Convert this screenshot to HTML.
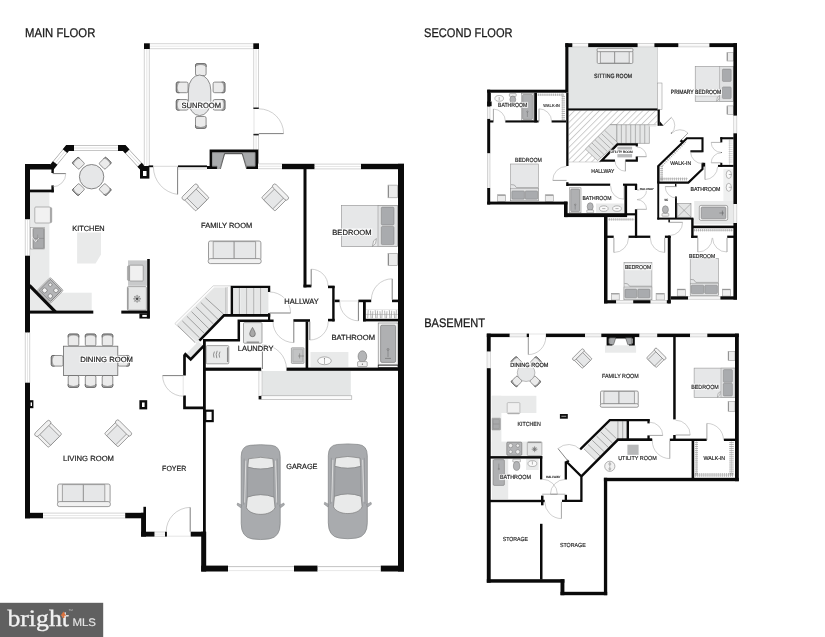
<!DOCTYPE html>
<html><head><meta charset="utf-8"><title>Floor plan</title>
<style>
html,body{margin:0;padding:0;background:#fff;}
body{width:825px;height:637px;overflow:hidden;font-family:"Liberation Sans",sans-serif;}
svg{display:block;font-family:"Liberation Sans",sans-serif;}
</style></head><body>
<svg width="825" height="637" viewBox="0 0 825 637" text-rendering="geometricPrecision">
<defs>
<g id="arm">
<rect x="-9.5" y="-7" width="19" height="16.6" rx="1.2" fill="#f1f1f1" stroke="#7c7c7c" stroke-width="0.75" vector-effect="non-scaling-stroke"/>
<rect x="-6.4" y="-6" width="12.8" height="15.6" fill="#e6e7e8" stroke="#7c7c7c" stroke-width="0.7" vector-effect="non-scaling-stroke"/>
<rect x="-10.4" y="-10" width="20.8" height="4.4" rx="2.1" fill="#f1f1f1" stroke="#7c7c7c" stroke-width="0.75" vector-effect="non-scaling-stroke"/>
</g>
<g id="chair">
<rect x="-5.3" y="-5.9" width="10.6" height="11.8" rx="1.6" fill="#ebebeb" stroke="#6c6c6c" stroke-width="0.75" vector-effect="non-scaling-stroke"/>
<path d="M-4.9,-4.1 Q0,-6.6 4.9,-4.1" fill="none" stroke="#a4a4a4" stroke-width="1.7"/>
<path d="M-5.3,-2.6 L-5.3,-4.3 Q-5.3,-5.9 -3.7,-5.9 L3.7,-5.9 Q5.3,-5.9 5.3,-4.3 L5.3,-2.6" fill="none" stroke="#5c5c5c" stroke-width="0.8" vector-effect="non-scaling-stroke"/>
</g>
<g id="sofa">
<rect x="0.3" y="0" width="52.4" height="19" rx="1.8" fill="#f1f1f1" stroke="#7c7c7c" stroke-width="0.75" vector-effect="non-scaling-stroke"/>
<rect x="5" y="0.6" width="21" height="17.6" fill="#e6e7e8" stroke="#7c7c7c" stroke-width="0.65" vector-effect="non-scaling-stroke"/>
<rect x="26" y="0.6" width="21.4" height="17.6" fill="#e6e7e8" stroke="#7c7c7c" stroke-width="0.65" vector-effect="non-scaling-stroke"/>
<rect x="0" y="17.6" width="53" height="5" rx="2.2" fill="#f1f1f1" stroke="#7c7c7c" stroke-width="0.75" vector-effect="non-scaling-stroke"/>
</g>
<g id="car">
<path d="M0,12 Q0,1.4 9,0.7 Q19.5,-0.5 30,0.7 Q39,1.4 39,12 L39,79 Q39,92.6 28,94.3 Q19.5,95.6 11,94.3 Q0,92.6 0,79 Z" fill="#a9abae" stroke="#808284" stroke-width="0.7"/>
<path d="M7.4,14.2 Q19.5,11.2 31.6,14.2 L32.4,22.6 Q19.5,26.4 6.6,22.6 Z" fill="#e9eaea" stroke="#6e6e6e" stroke-width="0.6"/>
<path d="M6.2,52.4 Q19.5,47.6 32.8,52.4 L33.8,63 C30,72 9,72 5.2,63 Z" fill="#e9eaea" stroke="#6e6e6e" stroke-width="0.6"/>
<path d="M6.6,22.6 Q19.5,26.4 32.4,22.6 L32.8,52.4 Q19.5,47.6 6.2,52.4 Z" fill="#a3a5a8" stroke="#808284" stroke-width="0.5"/>
<path d="M4.6,16 L3.4,58" stroke="#dcdcdc" stroke-width="1" fill="none"/>
<path d="M34.4,16 L35.6,58" stroke="#dcdcdc" stroke-width="1" fill="none"/>
<path d="M3,14 L2.4,60 M36,14 L36.6,60" stroke="#7a7c7e" stroke-width="0.4" fill="none"/>
<path d="M0.6,60.6 L-3.6,58.4 L-4.2,60.4 L-0.4,63.2 Z" fill="#a9abae" stroke="#808284" stroke-width="0.5"/>
<path d="M38.4,60.6 L42.6,58.4 L43.2,60.4 L39.4,63.2 Z" fill="#a9abae" stroke="#808284" stroke-width="0.5"/>
</g>
<g id="toilet">
<ellipse cx="0" cy="-3" rx="4.4" ry="5.6" fill="#b4b5b7" stroke="#777" stroke-width="0.6"/>
<rect x="-4.6" y="2.2" width="9.2" height="4.2" rx="0.8" fill="#efefef" stroke="#777" stroke-width="0.55"/>
</g>
<pattern id="hatch" width="4.4" height="4.4" patternUnits="userSpaceOnUse" patternTransform="rotate(45)"><line x1="0.5" y1="0" x2="0.5" y2="4.4" stroke="#9c9c9c" stroke-width="0.5"/></pattern>
<filter id="gray" x="0" y="0" width="825" height="637" filterUnits="userSpaceOnUse" color-interpolation-filters="sRGB"><feColorMatrix type="saturate" values="0"/></filter>
</defs>
<rect width="825" height="637" fill="#fff"/>
<g id="main-floor">
<rect x="30.00" y="192.00" width="19.40" height="119.00" fill="#e9eaea" />
<rect x="30.00" y="292.70" width="61.70" height="18.30" fill="#e9eaea" />
<path d="M77.1,232.4 L101,232.4 L101,254.6 L95.6,263.6 L77.1,263.6 Z" stroke="none" stroke-width="0" fill="#e9eaea" />
<rect x="49.00" y="207.40" width="2.80" height="15.40" rx="1.3" fill="#a6a6a6" stroke="#8a8a8a" stroke-width="0.4" />
<rect x="34.80" y="207.00" width="15.60" height="16.00" rx="1" fill="#f1f1f1" stroke="#9a9a9a" stroke-width="0.7" />
<rect x="30.40" y="227.60" width="14.00" height="21.40" rx="0" fill="#f6f6f6" stroke="#8a8a8a" stroke-width="0.5" />
<rect x="33.00" y="228.40" width="11.00" height="20.00" rx="0.6" fill="#a9aaac" stroke="#777" stroke-width="0.6" />
<line x1="33.00" y1="238.40" x2="44.00" y2="238.40" stroke="#7c7c7c" stroke-width="0.5" />
<path d="M31.4,236 L35.6,241.6 L38.8,238" stroke="#f0f0f0" stroke-width="0.9" fill="none" />
<path d="M37.6,234.6 L37.6,242" stroke="#8a8a8a" stroke-width="0.5" fill="none" />
<g transform="translate(50.3,290.4) rotate(45)"><rect x="-9.3" y="-9.3" width="18.6" height="18.6" rx="1.6" fill="#dcdcdc" stroke="#8a8a8a" stroke-width="0.6"/><rect x="-8" y="-8" width="16" height="16" rx="1" fill="#b4b5b7" stroke="#5c5c5c" stroke-width="0.6"/><circle cx="-4" cy="-4" r="1.7" fill="#f2f2f2" stroke="#555" stroke-width="0.5"/><circle cx="4" cy="-4" r="2.2" fill="#f2f2f2" stroke="#555" stroke-width="0.5"/><circle cx="-4" cy="4" r="2.4" fill="#f2f2f2" stroke="#555" stroke-width="0.5"/><circle cx="4" cy="4" r="2.2" fill="#f2f2f2" stroke="#555" stroke-width="0.5"/></g>
<rect x="128.00" y="260.40" width="19.20" height="25.40" fill="#c9cacb" />
<rect x="127.40" y="265.80" width="3.00" height="14.80" rx="1.3" fill="#a6a6a6" stroke="#8a8a8a" stroke-width="0.4" />
<rect x="129.60" y="265.20" width="13.60" height="15.80" rx="0.8" fill="#f0f0f0" stroke="#8a8a8a" stroke-width="0.65" />
<rect x="127.40" y="286.60" width="19.00" height="23.60" rx="1" fill="#e6e7e7" stroke="#808080" stroke-width="0.65" />
<line x1="128.00" y1="287.60" x2="128.00" y2="309.40" stroke="#8a8a8a" stroke-width="1.0" />
<g stroke="#444" stroke-width="0.5"><line x1="133.2" y1="298.8" x2="141" y2="298.8"/><line x1="137.1" y1="294.9" x2="137.1" y2="302.7"/><line x1="134.3" y1="296" x2="139.9" y2="301.6"/><line x1="139.9" y1="296" x2="134.3" y2="301.6"/></g>
<circle cx="137.1" cy="298.8" r="3" fill="none" stroke="#777" stroke-width="0.4"/><circle cx="137.1" cy="298.8" r="1.1" fill="#444"/>
<use href="#chair" transform="translate(78.40,163.20) rotate(-45) scale(0.8)"/>
<use href="#chair" transform="translate(105.20,163.20) rotate(45) scale(0.8)"/>
<use href="#chair" transform="translate(78.40,189.60) rotate(-135) scale(0.8)"/>
<use href="#chair" transform="translate(105.20,189.60) rotate(135) scale(0.8)"/>
<circle cx="91.6" cy="176.7" r="12.2" fill="#e6e7e8" stroke="#6a6a6a" stroke-width="0.8"/>
<use href="#chair" transform="translate(200.80,69.60) rotate(0) scale(1.0)"/>
<use href="#chair" transform="translate(200.80,122.40) rotate(180) scale(1.0)"/>
<use href="#chair" transform="translate(182.20,87.40) rotate(-90) scale(1.0)"/>
<use href="#chair" transform="translate(182.20,104.80) rotate(-90) scale(1.0)"/>
<use href="#chair" transform="translate(219.00,87.40) rotate(90) scale(1.0)"/>
<use href="#chair" transform="translate(219.00,104.80) rotate(90) scale(1.0)"/>
<rect x="188.4" y="75" width="22.4" height="40.6" rx="11.2" ry="15" fill="#e6e7e8" stroke="#6e6e6e" stroke-width="0.75"/>
<use href="#arm" transform="translate(195.60,197.60) rotate(-45) scale(1)"/>
<use href="#arm" transform="translate(275.00,197.60) rotate(45) scale(1)"/>
<use href="#sofa" transform="translate(208.20,241.00) rotate(0) scale(1)"/>
<use href="#chair" transform="translate(73.50,340.00) rotate(0) scale(1.0)"/>
<use href="#chair" transform="translate(73.50,381.40) rotate(180) scale(1.0)"/>
<use href="#chair" transform="translate(90.60,340.00) rotate(0) scale(1.0)"/>
<use href="#chair" transform="translate(90.60,381.40) rotate(180) scale(1.0)"/>
<use href="#chair" transform="translate(107.50,340.00) rotate(0) scale(1.0)"/>
<use href="#chair" transform="translate(107.50,381.40) rotate(180) scale(1.0)"/>
<use href="#chair" transform="translate(57.20,360.80) rotate(-90) scale(1.0)"/>
<use href="#chair" transform="translate(123.60,360.80) rotate(90) scale(1.0)"/>
<rect x="63.50" y="346.20" width="54.30" height="29.20" rx="0" fill="#e6e7e8" stroke="#6a6a6a" stroke-width="0.8" />
<use href="#arm" transform="translate(48.30,434.00) rotate(-45) scale(1)"/>
<use href="#arm" transform="translate(118.00,433.50) rotate(45) scale(1)"/>
<use href="#sofa" transform="translate(57.40,484.00) rotate(0) scale(1)"/>
<rect x="341.60" y="205.60" width="56.00" height="41.00" rx="0" fill="#e6e7e8" stroke="#8c8c8c" stroke-width="0.6" />
<rect x="378.00" y="205.60" width="19.60" height="41.00" rx="0" fill="#e0e1e2" stroke="#8c8c8c" stroke-width="0.5" />
<rect x="381.30" y="207.10" width="12.70" height="17.90" rx="1.2" fill="#a9abae" stroke="#7a7a7a" stroke-width="0.5" />
<rect x="381.30" y="226.40" width="12.70" height="18.20" rx="1.2" fill="#a9abae" stroke="#7a7a7a" stroke-width="0.5" />
<path d="M372.4,246.4 L373.6,240.8 L376.4,238.6 L375.6,243.4 Z" stroke="#666" stroke-width="0.45" fill="#f4f4f4" />
<rect x="388.00" y="185.10" width="9.60" height="12.70" rx="0" fill="#ececec" stroke="#8c8c8c" stroke-width="0.55" />
<line x1="388.50" y1="185.60" x2="388.50" y2="197.30" stroke="#8c8c8c" stroke-width="1.0" />
<rect x="388.00" y="253.60" width="9.60" height="12.00" rx="0" fill="#ececec" stroke="#8c8c8c" stroke-width="0.55" />
<line x1="388.50" y1="254.00" x2="388.50" y2="265.20" stroke="#8c8c8c" stroke-width="1.0" />
<rect x="310.50" y="352.00" width="37.90" height="14.90" fill="#e9eaea" />
<ellipse cx="324.5" cy="360.8" rx="6.8" ry="3.9" fill="#fafafa" stroke="#777" stroke-width="0.55"/>
<line x1="324.50" y1="359.00" x2="324.50" y2="364.00" stroke="#777" stroke-width="0.5" />
<circle cx="324.5" cy="358.6" r="0.6" fill="#777"/>
<ellipse cx="362.4" cy="356.4" rx="4.3" ry="5.6" fill="#b4b5b7" stroke="#6f6f6f" stroke-width="0.6"/>
<rect x="357.60" y="361.60" width="9.60" height="5.00" rx="0.8" fill="#f0f0f0" stroke="#6f6f6f" stroke-width="0.55" />
<circle cx="362.4" cy="364.2" r="0.6" fill="#555"/>
<rect x="378.20" y="323.00" width="19.80" height="41.80" rx="0" fill="#f2f2f2" stroke="#7a7a7a" stroke-width="0.6" />
<rect x="380.60" y="325.20" width="15.00" height="37.20" rx="1.4" fill="#afb0b2" stroke="#6f6f6f" stroke-width="0.6" />
<line x1="388.00" y1="349.60" x2="388.00" y2="357.00" stroke="#666" stroke-width="0.5" />
<circle cx="388" cy="349.4" r="1" fill="none" stroke="#666" stroke-width="0.45"/>
<line x1="385.00" y1="358.40" x2="391.00" y2="358.40" stroke="#666" stroke-width="0.6" />
<rect x="378.20" y="365.20" width="19.80" height="2.40" rx="0" fill="#fff" stroke="#111" stroke-width="0.7" />
<rect x="291.40" y="347.80" width="12.60" height="15.60" rx="0.6" fill="#d6d7d8" stroke="#7c7c7c" stroke-width="0.6" />
<rect x="292.80" y="349.20" width="9.80" height="12.80" rx="0.6" fill="#c2c3c4" stroke="#8a8a8a" stroke-width="0.4" />
<path d="M298,356 L304,356 M299.6,353.4 L299.6,358.4" stroke="#6c6c6c" stroke-width="0.5" fill="none" />
<line x1="368.20" y1="310.20" x2="367.70" y2="318.20" stroke="#555" stroke-width="0.45" />
<line x1="370.55" y1="310.70" x2="371.05" y2="318.20" stroke="#555" stroke-width="0.45" />
<line x1="372.90" y1="311.20" x2="372.40" y2="318.20" stroke="#555" stroke-width="0.45" />
<line x1="375.25" y1="310.20" x2="375.75" y2="318.20" stroke="#555" stroke-width="0.45" />
<line x1="377.60" y1="310.70" x2="377.10" y2="318.20" stroke="#555" stroke-width="0.45" />
<line x1="379.95" y1="311.20" x2="380.45" y2="318.20" stroke="#555" stroke-width="0.45" />
<line x1="382.30" y1="310.20" x2="381.80" y2="318.20" stroke="#555" stroke-width="0.45" />
<line x1="384.65" y1="310.70" x2="385.15" y2="318.20" stroke="#555" stroke-width="0.45" />
<line x1="387.00" y1="311.20" x2="386.50" y2="318.20" stroke="#555" stroke-width="0.45" />
<line x1="389.35" y1="310.20" x2="389.85" y2="318.20" stroke="#555" stroke-width="0.45" />
<line x1="391.70" y1="310.70" x2="391.20" y2="318.20" stroke="#555" stroke-width="0.45" />
<line x1="394.05" y1="311.20" x2="394.55" y2="318.20" stroke="#555" stroke-width="0.45" />
<line x1="396.40" y1="310.20" x2="395.90" y2="318.20" stroke="#555" stroke-width="0.45" />
<line x1="366.00" y1="314.40" x2="398.00" y2="314.40" stroke="#9a9a9a" stroke-width="0.5" />
<line x1="366.00" y1="309.60" x2="398.00" y2="309.60" stroke="#c4c4c4" stroke-width="0.4" />
<rect x="243.50" y="322.60" width="18.50" height="20.60" rx="1" fill="#e8e9e9" stroke="#7a7a7a" stroke-width="0.65" />
<line x1="246.60" y1="342.20" x2="259.00" y2="342.20" stroke="#8a8a8a" stroke-width="1.3" />
<path d="M252.5,327.4 C252.5,327.4 255.3,332 255.3,333.9 A2.8,2.8 0 0 1 249.7,333.9 C249.7,332 252.5,327.4 252.5,327.4 Z" stroke="#555" stroke-width="0.6" fill="#a8a8a8" />
<rect x="206.20" y="345.60" width="22.60" height="18.20" rx="1" fill="#e8e9e9" stroke="#7a7a7a" stroke-width="0.65" />
<line x1="227.60" y1="347.40" x2="227.60" y2="362.00" stroke="#8a8a8a" stroke-width="1.3" />
<path d="M214.4,351.6 q-1.6,3 -0.4,6 M217.2,350.8 q-1.8,3.6 -0.4,7.4 M220,351.6 q-1.6,3 -0.4,6" stroke="#444" stroke-width="0.55" fill="none" />
<rect x="262.00" y="371.00" width="88.80" height="24.80" fill="#e4e6e6" />
<rect x="258.90" y="371.00" width="3.10" height="25.00" rx="0" fill="#fbfbfb" stroke="#b4b4b4" stroke-width="0.5" />
<rect x="261.00" y="395.80" width="90.80" height="3.50" rx="0" fill="#fbfbfb" stroke="#9c9c9c" stroke-width="0.55" />
<rect x="258.60" y="396.00" width="2.70" height="3.40" fill="#111" />
<use href="#car" transform="translate(241.20,444.60) rotate(0) scale(1)"/>
<use href="#car" transform="translate(328.30,443.80) rotate(0) scale(1)"/>
<rect x="232.80" y="287.60" width="35.60" height="26.60" fill="#e5e6e6" />
<line x1="239.40" y1="287.60" x2="239.40" y2="314.20" stroke="#6e6e6e" stroke-width="0.55" />
<line x1="240.30" y1="287.60" x2="240.30" y2="314.20" stroke="#f4f4f4" stroke-width="0.6" />
<line x1="246.80" y1="287.60" x2="246.80" y2="314.20" stroke="#6e6e6e" stroke-width="0.55" />
<line x1="247.70" y1="287.60" x2="247.70" y2="314.20" stroke="#f4f4f4" stroke-width="0.6" />
<line x1="253.90" y1="287.60" x2="253.90" y2="314.20" stroke="#6e6e6e" stroke-width="0.55" />
<line x1="254.80" y1="287.60" x2="254.80" y2="314.20" stroke="#f4f4f4" stroke-width="0.6" />
<line x1="260.80" y1="287.60" x2="260.80" y2="314.20" stroke="#6e6e6e" stroke-width="0.55" />
<line x1="261.70" y1="287.60" x2="261.70" y2="314.20" stroke="#f4f4f4" stroke-width="0.6" />
<polygon points="213.20,285.80 230.80,285.80 230.80,314.60 223.60,315.20 197.20,343.60 174.80,323.60" fill="#fbfbfb" stroke="#b4b4b4" stroke-width="0.5"/>
<polygon points="214.20,287.40 226.00,287.40 226.00,314.00 223.40,315.00 197.20,342.00 176.60,324.60" fill="#e5e6e6" stroke="none" stroke-width="0.5"/>
<line x1="227.40" y1="287.00" x2="227.40" y2="314.00" stroke="#b0b0b0" stroke-width="0.5" />
<line x1="226.00" y1="287.40" x2="226.00" y2="314.00" stroke="#6e6e6e" stroke-width="0.5" />
<line x1="205.40" y1="297.80" x2="223.40" y2="314.00" stroke="#6e6e6e" stroke-width="0.6" />
<line x1="200.78" y1="302.42" x2="218.08" y2="319.42" stroke="#6e6e6e" stroke-width="0.6" />
<line x1="196.16" y1="307.04" x2="213.46" y2="324.04" stroke="#6e6e6e" stroke-width="0.6" />
<line x1="191.54" y1="311.66" x2="208.84" y2="328.66" stroke="#6e6e6e" stroke-width="0.6" />
<line x1="186.92" y1="316.28" x2="204.22" y2="333.28" stroke="#6e6e6e" stroke-width="0.6" />
<line x1="182.30" y1="320.90" x2="199.60" y2="337.90" stroke="#6e6e6e" stroke-width="0.6" />
<line x1="177.68" y1="325.52" x2="194.98" y2="342.52" stroke="#6e6e6e" stroke-width="0.6" />
<polygon points="198.40,341.40 203.20,345.80 190.70,358.40 186.20,353.80" fill="#e5e6e6" stroke="none" stroke-width="0.5"/>
<rect x="25.00" y="164.00" width="5.00" height="55.50" fill="#0a0a0a" />
<rect x="25.00" y="219.50" width="5.00" height="36.20" fill="#fff" />
<line x1="25.30" y1="219.50" x2="25.30" y2="255.70" stroke="#b0b0b0" stroke-width="0.55" />
<line x1="29.70" y1="219.50" x2="29.70" y2="255.70" stroke="#b0b0b0" stroke-width="0.55" />
<line x1="27.50" y1="219.50" x2="27.50" y2="255.70" stroke="#cfcfcf" stroke-width="0.5" />
<rect x="25.00" y="255.70" width="5.00" height="77.00" fill="#0a0a0a" />
<rect x="25.00" y="332.70" width="5.00" height="50.00" fill="#fff" />
<line x1="25.30" y1="332.70" x2="25.30" y2="382.70" stroke="#b0b0b0" stroke-width="0.55" />
<line x1="29.70" y1="332.70" x2="29.70" y2="382.70" stroke="#b0b0b0" stroke-width="0.55" />
<line x1="27.50" y1="332.70" x2="27.50" y2="382.70" stroke="#cfcfcf" stroke-width="0.5" />
<rect x="25.00" y="382.70" width="5.00" height="135.60" fill="#0a0a0a" />
<rect x="25.00" y="164.00" width="28.80" height="5.50" fill="#0a0a0a" />
<rect x="51.40" y="164.00" width="2.40" height="9.00" fill="#0a0a0a" />
<rect x="51.40" y="185.40" width="2.40" height="6.90" fill="#0a0a0a" />
<rect x="30.00" y="189.60" width="23.80" height="2.70" fill="#0a0a0a" />
<line x1="52.60" y1="173.60" x2="65.80" y2="173.60" stroke="#686868" stroke-width="0.85" />
<path d="M65.80,173.60 A13.20,13.20 0 0 1 52.60,186.80" stroke="#a0a0a0" stroke-width="0.5" fill="none" />
<polyline points="52.40,166.40 67.60,148.00 124.20,148.00 142.60,168.00" stroke="#9a9a9a" stroke-width="5.6" fill="none" stroke-linejoin="miter" stroke-linecap="butt"/>
<polyline points="52.40,166.40 67.60,148.00 124.20,148.00 142.60,168.00" stroke="#fff" stroke-width="4.6" fill="none" stroke-linejoin="miter" stroke-linecap="butt"/>
<polyline points="52.40,166.40 67.60,148.00 124.20,148.00 142.60,168.00" stroke="#c2c2c2" stroke-width="0.5" fill="none" stroke-linejoin="miter" stroke-linecap="butt"/>
<polyline points="51.00,168.20 55.20,163.00" stroke="#0a0a0a" stroke-width="5.8" fill="none" stroke-linejoin="miter" stroke-linecap="butt"/>
<polyline points="65.00,151.20 67.60,148.00 74.00,148.00" stroke="#0a0a0a" stroke-width="5.8" fill="none" stroke-linejoin="miter" stroke-linecap="butt"/>
<polyline points="118.00,148.00 124.20,148.00 127.40,151.40" stroke="#0a0a0a" stroke-width="5.8" fill="none" stroke-linejoin="miter" stroke-linecap="butt"/>
<polyline points="139.60,164.80 144.00,169.60" stroke="#0a0a0a" stroke-width="5.8" fill="none" stroke-linejoin="miter" stroke-linecap="butt"/>
<rect x="140.00" y="166.00" width="9.40" height="12.60" fill="#0a0a0a" />
<rect x="143.00" y="171.00" width="3.50" height="5.00" fill="#fff" />
<rect x="144.00" y="49.00" width="5.60" height="117.00" fill="#fff" />
<line x1="144.30" y1="49.00" x2="144.30" y2="166.00" stroke="#b0b0b0" stroke-width="0.55" />
<line x1="149.30" y1="49.00" x2="149.30" y2="166.00" stroke="#b0b0b0" stroke-width="0.55" />
<line x1="146.80" y1="49.00" x2="146.80" y2="166.00" stroke="#cfcfcf" stroke-width="0.5" />
<rect x="149.60" y="43.40" width="103.80" height="5.60" fill="#fff" />
<line x1="149.60" y1="43.70" x2="253.40" y2="43.70" stroke="#b0b0b0" stroke-width="0.55" />
<line x1="149.60" y1="48.70" x2="253.40" y2="48.70" stroke="#b0b0b0" stroke-width="0.55" />
<line x1="149.60" y1="46.20" x2="253.40" y2="46.20" stroke="#cfcfcf" stroke-width="0.5" />
<rect x="253.40" y="49.00" width="5.40" height="59.60" fill="#fff" />
<line x1="253.70" y1="49.00" x2="253.70" y2="108.60" stroke="#b0b0b0" stroke-width="0.55" />
<line x1="258.50" y1="49.00" x2="258.50" y2="108.60" stroke="#b0b0b0" stroke-width="0.55" />
<line x1="256.10" y1="49.00" x2="256.10" y2="108.60" stroke="#cfcfcf" stroke-width="0.5" />
<rect x="253.40" y="135.40" width="5.40" height="14.60" fill="#fff" />
<line x1="253.70" y1="135.40" x2="253.70" y2="150.00" stroke="#b0b0b0" stroke-width="0.55" />
<line x1="258.50" y1="135.40" x2="258.50" y2="150.00" stroke="#b0b0b0" stroke-width="0.55" />
<line x1="256.10" y1="135.40" x2="256.10" y2="150.00" stroke="#cfcfcf" stroke-width="0.5" />
<rect x="144.00" y="43.30" width="5.80" height="5.70" fill="#0a0a0a" />
<rect x="253.30" y="43.30" width="5.70" height="5.70" fill="#0a0a0a" />
<rect x="253.40" y="107.50" width="5.40" height="1.50" fill="#222" />
<rect x="253.40" y="133.80" width="5.40" height="1.60" fill="#222" />
<line x1="258.80" y1="133.60" x2="283.60" y2="133.60" stroke="#686868" stroke-width="0.85" />
<path d="M283.60,133.60 A24.80,24.80 0 0 0 258.80,108.80" stroke="#a0a0a0" stroke-width="0.5" fill="none" />
<line x1="254.00" y1="109.00" x2="254.00" y2="133.60" stroke="#c4c4c4" stroke-width="0.5" />
<rect x="148.60" y="165.40" width="4.60" height="1.80" fill="#0a0a0a" />
<rect x="178.00" y="165.40" width="29.00" height="1.80" fill="#0a0a0a" />
<line x1="178.00" y1="169.00" x2="207.00" y2="169.00" stroke="#b0b0b0" stroke-width="0.5" />
<line x1="177.60" y1="166.60" x2="177.60" y2="194.40" stroke="#686868" stroke-width="0.85" />
<path d="M177.60,194.40 A27.80,27.80 0 0 1 153.40,167.00" stroke="#a0a0a0" stroke-width="0.5" fill="none" />
<line x1="153.40" y1="166.30" x2="177.60" y2="166.30" stroke="#b0b0b0" stroke-width="0.5" />
<polygon points="209.60,149.50 258.40,149.50 258.40,169.00 246.40,169.00 246.40,166.20 255.20,166.20 255.20,152.60 212.20,152.60 212.20,166.20 217.00,166.20 217.00,169.00 207.00,169.00 207.00,166.00 209.60,166.00" fill="#0a0a0a" stroke="none" stroke-width="0.5"/>
<polygon points="212.20,152.60 255.20,152.60 255.20,166.20 246.40,166.20 242.40,153.80 224.60,153.80 219.80,168.60 217.00,168.60 217.00,166.20 212.20,166.20" fill="#a9abad" stroke="#4a4a4a" stroke-width="0.4"/>
<polyline points="220.40,169.00 224.60,153.60 242.20,153.60 246.60,169.00" stroke="#3a3a3a" stroke-width="0.7" fill="none" stroke-linejoin="miter" stroke-linecap="butt"/>
<rect x="258.00" y="163.60" width="24.00" height="5.40" fill="#fff" />
<line x1="258.00" y1="163.90" x2="282.00" y2="163.90" stroke="#b0b0b0" stroke-width="0.55" />
<line x1="258.00" y1="168.70" x2="282.00" y2="168.70" stroke="#b0b0b0" stroke-width="0.55" />
<line x1="258.00" y1="166.30" x2="282.00" y2="166.30" stroke="#cfcfcf" stroke-width="0.5" />
<rect x="282.00" y="163.80" width="32.70" height="5.40" fill="#0a0a0a" />
<rect x="314.70" y="163.80" width="46.30" height="5.40" fill="#fff" />
<line x1="314.70" y1="164.10" x2="361.00" y2="164.10" stroke="#b0b0b0" stroke-width="0.55" />
<line x1="314.70" y1="168.90" x2="361.00" y2="168.90" stroke="#b0b0b0" stroke-width="0.55" />
<line x1="314.70" y1="166.50" x2="361.00" y2="166.50" stroke="#cfcfcf" stroke-width="0.5" />
<rect x="361.00" y="163.80" width="43.00" height="5.40" fill="#0a0a0a" />
<rect x="398.00" y="163.80" width="6.00" height="407.70" fill="#0a0a0a" />
<rect x="201.20" y="565.60" width="26.80" height="5.90" fill="#0a0a0a" />
<rect x="294.00" y="565.60" width="23.50" height="5.90" fill="#0a0a0a" />
<rect x="380.80" y="565.60" width="23.20" height="5.90" fill="#0a0a0a" />
<line x1="228.00" y1="566.60" x2="294.00" y2="566.60" stroke="#9a9a9a" stroke-width="0.6" />
<line x1="228.00" y1="570.60" x2="294.00" y2="570.60" stroke="#d0d0d0" stroke-width="0.5" />
<line x1="317.50" y1="566.60" x2="380.80" y2="566.60" stroke="#9a9a9a" stroke-width="0.6" />
<line x1="317.50" y1="570.60" x2="380.80" y2="570.60" stroke="#d0d0d0" stroke-width="0.5" />
<rect x="203.00" y="339.40" width="2.80" height="192.60" fill="#0a0a0a" />
<rect x="201.20" y="531.70" width="5.00" height="39.80" fill="#0a0a0a" />
<rect x="190.70" y="531.70" width="15.30" height="4.90" fill="#0a0a0a" />
<rect x="25.00" y="512.80" width="18.00" height="5.50" fill="#0a0a0a" />
<rect x="43.00" y="512.80" width="82.20" height="5.50" fill="#fff" />
<line x1="43.00" y1="513.10" x2="125.20" y2="513.10" stroke="#b0b0b0" stroke-width="0.55" />
<line x1="43.00" y1="518.00" x2="125.20" y2="518.00" stroke="#b0b0b0" stroke-width="0.55" />
<line x1="43.00" y1="515.55" x2="125.20" y2="515.55" stroke="#cfcfcf" stroke-width="0.5" />
<rect x="125.20" y="512.80" width="20.80" height="5.50" fill="#0a0a0a" />
<rect x="143.40" y="506.80" width="2.60" height="6.20" fill="#0a0a0a" />
<rect x="141.10" y="512.80" width="4.90" height="23.80" fill="#0a0a0a" />
<rect x="141.10" y="531.70" width="13.60" height="4.90" fill="#0a0a0a" />
<rect x="154.70" y="531.70" width="10.50" height="4.90" fill="#fff" />
<line x1="154.70" y1="532.00" x2="165.20" y2="532.00" stroke="#b0b0b0" stroke-width="0.55" />
<line x1="154.70" y1="536.30" x2="165.20" y2="536.30" stroke="#b0b0b0" stroke-width="0.55" />
<line x1="154.70" y1="534.15" x2="165.20" y2="534.15" stroke="#cfcfcf" stroke-width="0.5" />
<rect x="165.00" y="531.70" width="1.90" height="4.90" fill="#0a0a0a" />
<line x1="190.20" y1="531.70" x2="190.20" y2="507.40" stroke="#686868" stroke-width="0.85" />
<path d="M190.20,507.40 A24.30,24.30 0 0 0 166.20,531.70" stroke="#a0a0a0" stroke-width="0.5" fill="none" />
<line x1="166.90" y1="536.20" x2="190.70" y2="536.20" stroke="#c8c8c8" stroke-width="0.5" />
<rect x="30.00" y="310.60" width="63.30" height="3.00" fill="#0a0a0a" />
<polyline points="29.40,285.40 55.40,311.80" stroke="#0a0a0a" stroke-width="3.2" fill="none" stroke-linejoin="miter" stroke-linecap="butt"/>
<rect x="147.20" y="259.00" width="2.60" height="59.40" fill="#0a0a0a" />
<rect x="121.30" y="310.60" width="28.50" height="3.00" fill="#0a0a0a" />
<rect x="139.40" y="313.40" width="10.40" height="5.10" fill="#0a0a0a" />
<rect x="142.30" y="314.90" width="4.50" height="2.00" fill="#fff" />
<rect x="28.50" y="400.20" width="4.90" height="8.00" fill="#0a0a0a" />
<rect x="30.60" y="402.40" width="1.40" height="3.60" fill="#fff" />
<rect x="139.40" y="400.20" width="7.80" height="9.20" fill="#0a0a0a" />
<rect x="142.00" y="402.50" width="2.60" height="4.50" fill="#fff" />
<rect x="303.50" y="169.00" width="3.00" height="118.40" fill="#0a0a0a" />
<rect x="303.50" y="284.60" width="7.90" height="2.80" fill="#0a0a0a" />
<line x1="311.20" y1="286.00" x2="311.20" y2="269.20" stroke="#686868" stroke-width="0.85" />
<path d="M311.20,269.20 A16.80,16.80 0 0 1 328.00,286.00" stroke="#a0a0a0" stroke-width="0.5" fill="none" />
<rect x="328.00" y="285.60" width="6.60" height="2.60" fill="#0a0a0a" />
<rect x="332.20" y="286.00" width="2.40" height="35.40" fill="#0a0a0a" />
<rect x="328.00" y="318.80" width="6.60" height="2.60" fill="#0a0a0a" />
<rect x="334.60" y="299.60" width="5.00" height="2.60" fill="#0a0a0a" />
<line x1="339.60" y1="301.00" x2="358.50" y2="301.00" stroke="#c0c0c0" stroke-width="0.5" />
<line x1="358.40" y1="302.00" x2="358.40" y2="320.80" stroke="#686868" stroke-width="0.85" />
<path d="M358.40,320.80 A18.80,18.80 0 0 1 339.80,302.00" stroke="#a0a0a0" stroke-width="0.5" fill="none" />
<rect x="358.40" y="299.60" width="12.80" height="2.60" fill="#0a0a0a" />
<rect x="363.00" y="300.00" width="2.80" height="21.40" fill="#0a0a0a" />
<rect x="363.00" y="318.80" width="35.40" height="2.60" fill="#0a0a0a" />
<rect x="392.00" y="299.60" width="6.40" height="2.60" fill="#0a0a0a" />
<line x1="392.20" y1="299.60" x2="392.20" y2="278.80" stroke="#686868" stroke-width="0.85" />
<path d="M392.20,278.80 A20.80,20.80 0 0 0 371.40,299.60" stroke="#a0a0a0" stroke-width="0.5" fill="none" />
<rect x="305.60" y="321.40" width="2.60" height="46.60" fill="#0a0a0a" />
<rect x="293.40" y="319.20" width="16.60" height="2.60" fill="#0a0a0a" />
<line x1="309.80" y1="321.60" x2="309.80" y2="340.00" stroke="#686868" stroke-width="0.85" />
<path d="M309.80,340.00 A18.40,18.40 0 0 0 328.20,321.60" stroke="#a0a0a0" stroke-width="0.5" fill="none" />
<line x1="293.80" y1="321.80" x2="293.80" y2="342.60" stroke="#686868" stroke-width="0.85" />
<path d="M293.80,342.60 A20.80,20.80 0 0 1 273.00,321.80" stroke="#a0a0a0" stroke-width="0.5" fill="none" />
<rect x="204.40" y="367.60" width="56.80" height="3.20" fill="#0a0a0a" />
<rect x="286.50" y="367.60" width="111.90" height="3.20" fill="#0a0a0a" />
<line x1="262.40" y1="369.00" x2="262.40" y2="344.80" stroke="#686868" stroke-width="0.85" />
<path d="M262.40,344.80 A24.20,24.20 0 0 1 286.50,369.00" stroke="#a0a0a0" stroke-width="0.5" fill="none" />
<polyline points="231.90,316.00 231.90,286.80 269.10,286.80 269.10,292.00" stroke="#0a0a0a" stroke-width="2.3" fill="none" stroke-linejoin="miter" stroke-linecap="butt"/>
<rect x="268.00" y="313.20" width="2.20" height="7.80" fill="#0a0a0a" />
<line x1="269.60" y1="313.00" x2="290.60" y2="313.00" stroke="#686868" stroke-width="0.85" />
<path d="M290.60,313.00 A21.00,21.00 0 0 0 269.60,292.00" stroke="#a0a0a0" stroke-width="0.5" fill="none" />
<polyline points="270.20,315.40 224.00,315.40 199.40,340.60" stroke="#0a0a0a" stroke-width="2.6" fill="none" stroke-linejoin="miter" stroke-linecap="butt"/>
<polyline points="273.60,320.70 238.80,320.70 238.80,340.30 203.00,340.30" stroke="#0a0a0a" stroke-width="2.5" fill="none" stroke-linejoin="miter" stroke-linecap="butt"/>
<polyline points="204.20,345.40 190.70,359.40 185.40,354.20 184.50,355.40 184.50,375.40" stroke="#0a0a0a" stroke-width="2.7" fill="none" stroke-linejoin="miter" stroke-linecap="butt"/>
<polyline points="184.50,395.40 184.50,407.80 204.40,407.80" stroke="#0a0a0a" stroke-width="2.7" fill="none" stroke-linejoin="miter" stroke-linecap="butt"/>
<line x1="183.40" y1="375.60" x2="162.60" y2="375.60" stroke="#686868" stroke-width="0.85" />
<path d="M162.60,375.60 A20.80,20.80 0 0 0 183.40,396.20" stroke="#a0a0a0" stroke-width="0.5" fill="none" />
<line x1="183.20" y1="375.60" x2="183.20" y2="396.00" stroke="#c8c8c8" stroke-width="0.5" />
<rect x="204.00" y="409.60" width="9.80" height="12.60" fill="#0a0a0a" />
<rect x="206.40" y="411.80" width="5.20" height="8.20" fill="#fff" />
</g>
<g id="second-floor">
<rect x="568.00" y="47.00" width="89.40" height="61.60" fill="#e3e5e5" />
<polygon points="568.60,110.40 657.60,110.40 657.60,124.70 610.00,124.70 585.40,149.10 597.60,160.80 597.60,162.00 568.60,162.00" fill="url(#hatch)" stroke="none" stroke-width="0.5"/>
<line x1="568.60" y1="162.00" x2="601.00" y2="162.00" stroke="#b0b0b0" stroke-width="0.5" />
<polygon points="610.00,124.70 656.40,124.70 656.40,126.40 649.40,126.40 649.40,143.40 617.40,143.40 601.00,159.80 597.40,160.60 585.40,149.10" fill="#fff" stroke="none" stroke-width="0.5"/>
<rect x="616.70" y="124.70" width="32.70" height="18.70" fill="#e5e6e6" />
<line x1="616.70" y1="124.70" x2="616.70" y2="143.40" stroke="#7a7a7a" stroke-width="0.5" />
<line x1="621.37" y1="124.70" x2="621.37" y2="143.40" stroke="#7a7a7a" stroke-width="0.5" />
<line x1="626.04" y1="124.70" x2="626.04" y2="143.40" stroke="#7a7a7a" stroke-width="0.5" />
<line x1="630.71" y1="124.70" x2="630.71" y2="143.40" stroke="#7a7a7a" stroke-width="0.5" />
<line x1="635.38" y1="124.70" x2="635.38" y2="143.40" stroke="#7a7a7a" stroke-width="0.5" />
<line x1="640.05" y1="124.70" x2="640.05" y2="143.40" stroke="#7a7a7a" stroke-width="0.5" />
<line x1="644.72" y1="124.70" x2="644.72" y2="143.40" stroke="#7a7a7a" stroke-width="0.5" />
<line x1="649.39" y1="124.70" x2="649.39" y2="143.40" stroke="#7a7a7a" stroke-width="0.5" />
<line x1="610.00" y1="124.70" x2="656.40" y2="124.70" stroke="#7a7a7a" stroke-width="0.5" />
<line x1="616.70" y1="143.40" x2="649.40" y2="143.40" stroke="#7a7a7a" stroke-width="0.5" />
<rect x="649.40" y="124.70" width="7.00" height="1.90" fill="#e9e9e9" />
<polygon points="610.00,124.70 616.70,124.70 616.70,141.60 617.60,143.00 597.60,160.60 585.40,149.10" fill="#e5e6e6" stroke="#7a7a7a" stroke-width="0.5"/>
<line x1="601.48" y1="133.52" x2="613.58" y2="145.12" stroke="#7a7a7a" stroke-width="0.5" />
<line x1="598.27" y1="136.63" x2="610.37" y2="148.23" stroke="#7a7a7a" stroke-width="0.5" />
<line x1="595.05" y1="139.75" x2="607.15" y2="151.35" stroke="#7a7a7a" stroke-width="0.5" />
<line x1="591.83" y1="142.87" x2="603.93" y2="154.47" stroke="#7a7a7a" stroke-width="0.5" />
<line x1="588.62" y1="145.98" x2="600.72" y2="157.58" stroke="#7a7a7a" stroke-width="0.5" />
<line x1="604.70" y1="130.40" x2="616.70" y2="141.70" stroke="#7a7a7a" stroke-width="0.5" />
<rect x="617.40" y="146.70" width="14.70" height="3.00" fill="#b9babb" />
<rect x="617.40" y="154.10" width="14.70" height="3.30" fill="#b9babb" />
<g transform="translate(597,48.4) scale(0.68,0.67)"><use href="#sofa" transform="translate(0,22.5) scale(1,-1)"/></g>
<rect x="695.20" y="66.30" width="38.20" height="35.20" rx="0" fill="#e6e7e8" stroke="#8c8c8c" stroke-width="0.55" />
<rect x="719.80" y="66.30" width="13.60" height="35.20" rx="0" fill="#e0e1e2" stroke="#8c8c8c" stroke-width="0.45" />
<rect x="722.40" y="69.10" width="8.80" height="12.30" rx="1" fill="#a9abae" stroke="#7a7a7a" stroke-width="0.45" />
<rect x="722.40" y="86.90" width="8.80" height="11.70" rx="1" fill="#a9abae" stroke="#7a7a7a" stroke-width="0.45" />
<line x1="695.20" y1="96.60" x2="719.80" y2="96.60" stroke="#bdbdbd" stroke-width="0.4" />
<path d="M716.6,101.2 L717.4,97.2 L719.6,95.6 L719,99 Z" stroke="#666" stroke-width="0.4" fill="#f4f4f4" />
<rect x="727.00" y="52.60" width="6.40" height="8.40" rx="0" fill="#ececec" stroke="#8c8c8c" stroke-width="0.5" />
<line x1="727.40" y1="53.00" x2="727.40" y2="60.60" stroke="#8c8c8c" stroke-width="0.9" />
<rect x="727.00" y="105.90" width="6.40" height="8.50" rx="0" fill="#ececec" stroke="#8c8c8c" stroke-width="0.5" />
<line x1="727.40" y1="106.30" x2="727.40" y2="114.00" stroke="#8c8c8c" stroke-width="0.9" />
<rect x="510.70" y="164.00" width="27.70" height="36.80" rx="0" fill="#e6e7e8" stroke="#8c8c8c" stroke-width="0.55" />
<rect x="510.70" y="188.60" width="27.70" height="12.20" rx="0" fill="#e0e1e2" stroke="#8c8c8c" stroke-width="0.45" />
<rect x="511.80" y="190.90" width="12.60" height="8.30" rx="1" fill="#a9abae" stroke="#7a7a7a" stroke-width="0.45" />
<rect x="525.20" y="190.90" width="12.40" height="8.30" rx="1" fill="#a9abae" stroke="#7a7a7a" stroke-width="0.45" />
<path d="M511,184.6 L514.4,185 L516.4,187.6 L538,187.6" stroke="#666" stroke-width="0.45" fill="none" />
<rect x="497.50" y="194.80" width="8.20" height="6.60" rx="0" fill="#ececec" stroke="#8c8c8c" stroke-width="0.5" />
<line x1="497.90" y1="195.30" x2="505.30" y2="195.30" stroke="#8c8c8c" stroke-width="0.9" />
<rect x="545.20" y="194.80" width="8.30" height="6.60" rx="0" fill="#ececec" stroke="#8c8c8c" stroke-width="0.5" />
<line x1="545.60" y1="195.30" x2="553.10" y2="195.30" stroke="#8c8c8c" stroke-width="0.9" />
<rect x="624.00" y="262.30" width="27.90" height="37.50" rx="0" fill="#e6e7e8" stroke="#8c8c8c" stroke-width="0.55" />
<rect x="624.00" y="287.00" width="27.90" height="12.80" rx="0" fill="#e0e1e2" stroke="#8c8c8c" stroke-width="0.45" />
<rect x="625.00" y="289.10" width="11.80" height="8.70" rx="1" fill="#a9abae" stroke="#7a7a7a" stroke-width="0.45" />
<rect x="637.80" y="289.10" width="12.20" height="8.70" rx="1" fill="#a9abae" stroke="#7a7a7a" stroke-width="0.45" />
<path d="M624.4,283.4 L627.6,283.8 L629.6,286.2 L651.6,286.2" stroke="#666" stroke-width="0.45" fill="none" />
<rect x="611.40" y="293.40" width="7.80" height="6.60" rx="0" fill="#ececec" stroke="#8c8c8c" stroke-width="0.5" />
<line x1="611.80" y1="293.90" x2="618.80" y2="293.90" stroke="#8c8c8c" stroke-width="0.9" />
<rect x="656.10" y="293.40" width="8.20" height="6.60" rx="0" fill="#ececec" stroke="#8c8c8c" stroke-width="0.5" />
<line x1="656.50" y1="293.90" x2="663.90" y2="293.90" stroke="#8c8c8c" stroke-width="0.9" />
<rect x="690.20" y="258.40" width="28.20" height="37.20" rx="0" fill="#e6e7e8" stroke="#8c8c8c" stroke-width="0.55" />
<rect x="690.20" y="283.20" width="28.20" height="12.40" rx="0" fill="#e0e1e2" stroke="#8c8c8c" stroke-width="0.45" />
<rect x="691.20" y="285.20" width="12.60" height="8.40" rx="1" fill="#a9abae" stroke="#7a7a7a" stroke-width="0.45" />
<rect x="704.80" y="285.20" width="12.60" height="8.40" rx="1" fill="#a9abae" stroke="#7a7a7a" stroke-width="0.45" />
<path d="M690.6,279.4 L693.8,279.8 L695.8,282.4 L718,282.4" stroke="#666" stroke-width="0.45" fill="none" />
<rect x="677.20" y="289.10" width="8.10" height="7.00" rx="0" fill="#ececec" stroke="#8c8c8c" stroke-width="0.5" />
<line x1="677.60" y1="289.60" x2="684.90" y2="289.60" stroke="#8c8c8c" stroke-width="0.9" />
<rect x="722.30" y="289.10" width="8.20" height="7.00" rx="0" fill="#ececec" stroke="#8c8c8c" stroke-width="0.5" />
<line x1="722.70" y1="289.60" x2="730.10" y2="289.60" stroke="#8c8c8c" stroke-width="0.9" />
<rect x="521.40" y="93.20" width="12.20" height="27.40" rx="0" fill="#f0f0f0" stroke="#7a7a7a" stroke-width="0.5" />
<rect x="522.60" y="94.40" width="9.80" height="25.00" rx="1" fill="#afb0b2" stroke="#6f6f6f" stroke-width="0.5" />
<line x1="527.40" y1="112.00" x2="527.40" y2="117.00" stroke="#666" stroke-width="0.4" />
<circle cx="527.4" cy="111.6" r="0.7" fill="none" stroke="#666" stroke-width="0.4"/>
<ellipse cx="499.2" cy="98.4" rx="4.3" ry="2.9" fill="#fafafa" stroke="#777" stroke-width="0.5"/>
<line x1="499.20" y1="97.00" x2="499.20" y2="100.40" stroke="#5a5a5a" stroke-width="0.45" />
<rect x="509.40" y="93.60" width="6.80" height="2.80" rx="0.5" fill="#f0f0f0" stroke="#6f6f6f" stroke-width="0.45" />
<ellipse cx="512.8" cy="99.6" rx="2.9" ry="3.6" fill="#b4b5b7" stroke="#6f6f6f" stroke-width="0.5"/>
<line x1="538.40" y1="93.60" x2="538.40" y2="95.80" stroke="#5a5a5a" stroke-width="0.45" />
<line x1="540.30" y1="93.60" x2="540.30" y2="95.80" stroke="#5a5a5a" stroke-width="0.45" />
<line x1="542.20" y1="93.60" x2="542.20" y2="95.80" stroke="#5a5a5a" stroke-width="0.45" />
<line x1="544.10" y1="93.60" x2="544.10" y2="95.80" stroke="#5a5a5a" stroke-width="0.45" />
<line x1="546.00" y1="93.60" x2="546.00" y2="95.80" stroke="#5a5a5a" stroke-width="0.45" />
<line x1="547.90" y1="93.60" x2="547.90" y2="95.80" stroke="#5a5a5a" stroke-width="0.45" />
<line x1="549.80" y1="93.60" x2="549.80" y2="95.80" stroke="#5a5a5a" stroke-width="0.45" />
<line x1="551.70" y1="93.60" x2="551.70" y2="95.80" stroke="#5a5a5a" stroke-width="0.45" />
<line x1="553.60" y1="93.60" x2="553.60" y2="95.80" stroke="#5a5a5a" stroke-width="0.45" />
<line x1="555.50" y1="93.60" x2="555.50" y2="95.80" stroke="#5a5a5a" stroke-width="0.45" />
<line x1="557.40" y1="93.60" x2="557.40" y2="95.80" stroke="#5a5a5a" stroke-width="0.45" />
<line x1="559.30" y1="93.60" x2="559.30" y2="95.80" stroke="#5a5a5a" stroke-width="0.45" />
<line x1="561.20" y1="93.60" x2="561.20" y2="95.80" stroke="#5a5a5a" stroke-width="0.45" />
<line x1="563.10" y1="93.60" x2="563.10" y2="95.80" stroke="#5a5a5a" stroke-width="0.45" />
<line x1="537.40" y1="95.00" x2="564.00" y2="95.00" stroke="#aaa" stroke-width="0.4" />
<line x1="561.60" y1="96.40" x2="565.00" y2="96.40" stroke="#5a5a5a" stroke-width="0.45" />
<line x1="561.60" y1="98.30" x2="565.00" y2="98.30" stroke="#5a5a5a" stroke-width="0.45" />
<line x1="561.60" y1="100.20" x2="565.00" y2="100.20" stroke="#5a5a5a" stroke-width="0.45" />
<line x1="561.60" y1="102.10" x2="565.00" y2="102.10" stroke="#5a5a5a" stroke-width="0.45" />
<line x1="561.60" y1="104.00" x2="565.00" y2="104.00" stroke="#5a5a5a" stroke-width="0.45" />
<line x1="561.60" y1="105.90" x2="565.00" y2="105.90" stroke="#5a5a5a" stroke-width="0.45" />
<line x1="561.60" y1="107.80" x2="565.00" y2="107.80" stroke="#5a5a5a" stroke-width="0.45" />
<line x1="561.60" y1="109.70" x2="565.00" y2="109.70" stroke="#5a5a5a" stroke-width="0.45" />
<line x1="561.60" y1="111.60" x2="565.00" y2="111.60" stroke="#5a5a5a" stroke-width="0.45" />
<line x1="561.60" y1="113.50" x2="565.00" y2="113.50" stroke="#5a5a5a" stroke-width="0.45" />
<line x1="561.60" y1="115.40" x2="565.00" y2="115.40" stroke="#5a5a5a" stroke-width="0.45" />
<line x1="561.60" y1="117.30" x2="565.00" y2="117.30" stroke="#5a5a5a" stroke-width="0.45" />
<line x1="561.60" y1="119.20" x2="565.00" y2="119.20" stroke="#5a5a5a" stroke-width="0.45" />
<line x1="562.40" y1="93.00" x2="562.40" y2="120.60" stroke="#aaa" stroke-width="0.4" />
<rect x="569.30" y="187.80" width="11.70" height="25.00" rx="0" fill="#f0f0f0" stroke="#7a7a7a" stroke-width="0.5" />
<rect x="570.70" y="189.00" width="8.90" height="22.60" rx="1" fill="#afb0b2" stroke="#6f6f6f" stroke-width="0.5" />
<line x1="575.20" y1="205.00" x2="575.20" y2="209.60" stroke="#666" stroke-width="0.4" />
<circle cx="575.2" cy="204.6" r="0.7" fill="none" stroke="#666" stroke-width="0.4"/>
<rect x="596.00" y="203.50" width="27.80" height="9.30" fill="#e9eaea" />
<ellipse cx="603.8" cy="208.6" rx="4.3" ry="2.7" fill="#fafafa" stroke="#777" stroke-width="0.5"/>
<line x1="602.20" y1="208.60" x2="605.40" y2="208.60" stroke="#5a5a5a" stroke-width="0.45" />
<ellipse cx="617" cy="208.6" rx="4.3" ry="2.7" fill="#fafafa" stroke="#777" stroke-width="0.5"/>
<line x1="615.40" y1="208.60" x2="618.60" y2="208.60" stroke="#5a5a5a" stroke-width="0.45" />
<ellipse cx="590.2" cy="206.6" rx="3" ry="3.9" fill="#b4b5b7" stroke="#6f6f6f" stroke-width="0.5"/>
<rect x="586.80" y="210.00" width="6.80" height="2.80" rx="0.5" fill="#f0f0f0" stroke="#6f6f6f" stroke-width="0.45" />
<line x1="609.40" y1="218.20" x2="609.40" y2="220.60" stroke="#5a5a5a" stroke-width="0.45" />
<line x1="611.35" y1="218.20" x2="611.35" y2="220.60" stroke="#5a5a5a" stroke-width="0.45" />
<line x1="613.30" y1="218.20" x2="613.30" y2="220.60" stroke="#5a5a5a" stroke-width="0.45" />
<line x1="615.25" y1="218.20" x2="615.25" y2="220.60" stroke="#5a5a5a" stroke-width="0.45" />
<line x1="617.20" y1="218.20" x2="617.20" y2="220.60" stroke="#5a5a5a" stroke-width="0.45" />
<line x1="619.15" y1="218.20" x2="619.15" y2="220.60" stroke="#5a5a5a" stroke-width="0.45" />
<line x1="621.10" y1="218.20" x2="621.10" y2="220.60" stroke="#5a5a5a" stroke-width="0.45" />
<line x1="623.05" y1="218.20" x2="623.05" y2="220.60" stroke="#5a5a5a" stroke-width="0.45" />
<line x1="625.00" y1="218.20" x2="625.00" y2="220.60" stroke="#5a5a5a" stroke-width="0.45" />
<line x1="626.95" y1="218.20" x2="626.95" y2="220.60" stroke="#5a5a5a" stroke-width="0.45" />
<line x1="628.90" y1="218.20" x2="628.90" y2="220.60" stroke="#5a5a5a" stroke-width="0.45" />
<line x1="630.85" y1="218.20" x2="630.85" y2="220.60" stroke="#5a5a5a" stroke-width="0.45" />
<line x1="632.80" y1="218.20" x2="632.80" y2="220.60" stroke="#5a5a5a" stroke-width="0.45" />
<line x1="608.00" y1="219.60" x2="634.60" y2="219.60" stroke="#aaa" stroke-width="0.4" />
<rect x="723.40" y="168.80" width="10.00" height="32.20" fill="#eff0f0" />
<ellipse cx="728.8" cy="174.5" rx="2.6" ry="4" fill="#fafafa" stroke="#777" stroke-width="0.5"/>
<line x1="728.80" y1="174.50" x2="731.40" y2="174.50" stroke="#5a5a5a" stroke-width="0.45" />
<ellipse cx="728.8" cy="187.3" rx="2.6" ry="4" fill="#fafafa" stroke="#777" stroke-width="0.5"/>
<line x1="728.80" y1="187.30" x2="731.40" y2="187.30" stroke="#5a5a5a" stroke-width="0.45" />
<rect x="694.20" y="201.00" width="39.20" height="23.20" fill="#e9eaea" />
<rect x="699.30" y="205.40" width="28.40" height="15.00" rx="1.6" fill="#f4f4f4" stroke="#7a7a7a" stroke-width="0.6" />
<rect x="701.20" y="207.00" width="24.60" height="11.80" rx="1.2" fill="#afb0b2" stroke="#6f6f6f" stroke-width="0.5" />
<line x1="719.40" y1="213.00" x2="724.00" y2="213.00" stroke="#555" stroke-width="0.5" />
<line x1="722.40" y1="210.60" x2="722.40" y2="215.40" stroke="#555" stroke-width="0.5" />
<rect x="677.20" y="203.60" width="13.80" height="13.60" rx="0" fill="#e4e5e5" stroke="#777" stroke-width="0.5" />
<line x1="677.20" y1="203.60" x2="691.00" y2="217.20" stroke="#777" stroke-width="0.45" />
<line x1="691.00" y1="203.60" x2="677.20" y2="217.20" stroke="#777" stroke-width="0.45" />
<ellipse cx="665.4" cy="209.6" rx="3" ry="3.8" fill="#b4b5b7" stroke="#6f6f6f" stroke-width="0.5"/>
<rect x="662.00" y="213.40" width="6.80" height="2.80" rx="0.5" fill="#f0f0f0" stroke="#6f6f6f" stroke-width="0.45" />
<line x1="662.00" y1="164.40" x2="663.40" y2="165.80" stroke="#5a5a5a" stroke-width="0.45" />
<line x1="663.73" y1="162.65" x2="665.13" y2="164.05" stroke="#5a5a5a" stroke-width="0.45" />
<line x1="665.46" y1="160.89" x2="666.86" y2="162.29" stroke="#5a5a5a" stroke-width="0.45" />
<line x1="667.19" y1="159.14" x2="668.59" y2="160.54" stroke="#5a5a5a" stroke-width="0.45" />
<line x1="668.92" y1="157.38" x2="670.32" y2="158.78" stroke="#5a5a5a" stroke-width="0.45" />
<line x1="670.65" y1="155.63" x2="672.05" y2="157.03" stroke="#5a5a5a" stroke-width="0.45" />
<line x1="672.38" y1="153.88" x2="673.78" y2="155.28" stroke="#5a5a5a" stroke-width="0.45" />
<line x1="674.12" y1="152.12" x2="675.52" y2="153.52" stroke="#5a5a5a" stroke-width="0.45" />
<line x1="675.85" y1="150.37" x2="677.25" y2="151.77" stroke="#5a5a5a" stroke-width="0.45" />
<line x1="677.58" y1="148.62" x2="678.98" y2="150.02" stroke="#5a5a5a" stroke-width="0.45" />
<line x1="679.31" y1="146.86" x2="680.71" y2="148.26" stroke="#5a5a5a" stroke-width="0.45" />
<line x1="681.04" y1="145.11" x2="682.44" y2="146.51" stroke="#5a5a5a" stroke-width="0.45" />
<line x1="682.77" y1="143.35" x2="684.17" y2="144.75" stroke="#5a5a5a" stroke-width="0.45" />
<line x1="684.50" y1="141.60" x2="685.90" y2="143.00" stroke="#5a5a5a" stroke-width="0.45" />
<line x1="661.60" y1="166.60" x2="686.40" y2="141.60" stroke="#aaa" stroke-width="0.4" />
<line x1="660.20" y1="166.60" x2="663.00" y2="166.60" stroke="#5a5a5a" stroke-width="0.45" />
<line x1="660.20" y1="168.50" x2="663.00" y2="168.50" stroke="#5a5a5a" stroke-width="0.45" />
<line x1="660.20" y1="170.40" x2="663.00" y2="170.40" stroke="#5a5a5a" stroke-width="0.45" />
<line x1="660.20" y1="172.30" x2="663.00" y2="172.30" stroke="#5a5a5a" stroke-width="0.45" />
<line x1="660.20" y1="174.20" x2="663.00" y2="174.20" stroke="#5a5a5a" stroke-width="0.45" />
<line x1="660.20" y1="176.10" x2="663.00" y2="176.10" stroke="#5a5a5a" stroke-width="0.45" />
<line x1="660.20" y1="178.00" x2="663.00" y2="178.00" stroke="#5a5a5a" stroke-width="0.45" />
<line x1="660.20" y1="179.90" x2="663.00" y2="179.90" stroke="#5a5a5a" stroke-width="0.45" />
<line x1="662.00" y1="165.00" x2="662.00" y2="180.60" stroke="#aaa" stroke-width="0.4" />
<line x1="661.00" y1="177.60" x2="661.00" y2="180.40" stroke="#5a5a5a" stroke-width="0.45" />
<line x1="662.95" y1="177.60" x2="662.95" y2="180.40" stroke="#5a5a5a" stroke-width="0.45" />
<line x1="664.90" y1="177.60" x2="664.90" y2="180.40" stroke="#5a5a5a" stroke-width="0.45" />
<line x1="666.85" y1="177.60" x2="666.85" y2="180.40" stroke="#5a5a5a" stroke-width="0.45" />
<line x1="668.80" y1="177.60" x2="668.80" y2="180.40" stroke="#5a5a5a" stroke-width="0.45" />
<line x1="670.75" y1="177.60" x2="670.75" y2="180.40" stroke="#5a5a5a" stroke-width="0.45" />
<line x1="672.70" y1="177.60" x2="672.70" y2="180.40" stroke="#5a5a5a" stroke-width="0.45" />
<line x1="674.65" y1="177.60" x2="674.65" y2="180.40" stroke="#5a5a5a" stroke-width="0.45" />
<line x1="676.60" y1="177.60" x2="676.60" y2="180.40" stroke="#5a5a5a" stroke-width="0.45" />
<line x1="678.55" y1="177.60" x2="678.55" y2="180.40" stroke="#5a5a5a" stroke-width="0.45" />
<line x1="680.50" y1="177.60" x2="680.50" y2="180.40" stroke="#5a5a5a" stroke-width="0.45" />
<line x1="682.45" y1="177.60" x2="682.45" y2="180.40" stroke="#5a5a5a" stroke-width="0.45" />
<line x1="684.40" y1="177.60" x2="684.40" y2="180.40" stroke="#5a5a5a" stroke-width="0.45" />
<line x1="686.35" y1="177.60" x2="686.35" y2="180.40" stroke="#5a5a5a" stroke-width="0.45" />
<line x1="660.00" y1="178.60" x2="688.00" y2="178.60" stroke="#aaa" stroke-width="0.4" />
<line x1="728.60" y1="141.00" x2="732.60" y2="141.00" stroke="#999" stroke-width="0.4" />
<line x1="728.60" y1="143.10" x2="732.60" y2="143.10" stroke="#999" stroke-width="0.4" />
<line x1="728.60" y1="145.20" x2="732.60" y2="145.20" stroke="#999" stroke-width="0.4" />
<line x1="728.60" y1="147.30" x2="732.60" y2="147.30" stroke="#999" stroke-width="0.4" />
<line x1="728.60" y1="149.40" x2="732.60" y2="149.40" stroke="#999" stroke-width="0.4" />
<line x1="728.60" y1="151.50" x2="732.60" y2="151.50" stroke="#999" stroke-width="0.4" />
<line x1="728.60" y1="153.60" x2="732.60" y2="153.60" stroke="#999" stroke-width="0.4" />
<line x1="728.60" y1="155.70" x2="732.60" y2="155.70" stroke="#999" stroke-width="0.4" />
<line x1="728.60" y1="157.80" x2="732.60" y2="157.80" stroke="#999" stroke-width="0.4" />
<line x1="728.60" y1="159.90" x2="732.60" y2="159.90" stroke="#999" stroke-width="0.4" />
<line x1="728.60" y1="162.00" x2="732.60" y2="162.00" stroke="#999" stroke-width="0.4" />
<line x1="729.60" y1="139.40" x2="729.60" y2="165.00" stroke="#aaa" stroke-width="0.4" />
<line x1="694.60" y1="229.00" x2="694.60" y2="231.40" stroke="#5a5a5a" stroke-width="0.45" />
<line x1="696.55" y1="229.00" x2="696.55" y2="231.40" stroke="#5a5a5a" stroke-width="0.45" />
<line x1="698.50" y1="229.00" x2="698.50" y2="231.40" stroke="#5a5a5a" stroke-width="0.45" />
<line x1="700.45" y1="229.00" x2="700.45" y2="231.40" stroke="#5a5a5a" stroke-width="0.45" />
<line x1="702.40" y1="229.00" x2="702.40" y2="231.40" stroke="#5a5a5a" stroke-width="0.45" />
<line x1="704.35" y1="229.00" x2="704.35" y2="231.40" stroke="#5a5a5a" stroke-width="0.45" />
<line x1="706.30" y1="229.00" x2="706.30" y2="231.40" stroke="#5a5a5a" stroke-width="0.45" />
<line x1="708.25" y1="229.00" x2="708.25" y2="231.40" stroke="#5a5a5a" stroke-width="0.45" />
<line x1="710.20" y1="229.00" x2="710.20" y2="231.40" stroke="#5a5a5a" stroke-width="0.45" />
<line x1="712.15" y1="229.00" x2="712.15" y2="231.40" stroke="#5a5a5a" stroke-width="0.45" />
<line x1="714.10" y1="229.00" x2="714.10" y2="231.40" stroke="#5a5a5a" stroke-width="0.45" />
<line x1="716.05" y1="229.00" x2="716.05" y2="231.40" stroke="#5a5a5a" stroke-width="0.45" />
<line x1="718.00" y1="229.00" x2="718.00" y2="231.40" stroke="#5a5a5a" stroke-width="0.45" />
<line x1="719.95" y1="229.00" x2="719.95" y2="231.40" stroke="#5a5a5a" stroke-width="0.45" />
<line x1="721.90" y1="229.00" x2="721.90" y2="231.40" stroke="#5a5a5a" stroke-width="0.45" />
<line x1="723.85" y1="229.00" x2="723.85" y2="231.40" stroke="#5a5a5a" stroke-width="0.45" />
<line x1="725.80" y1="229.00" x2="725.80" y2="231.40" stroke="#5a5a5a" stroke-width="0.45" />
<line x1="727.75" y1="229.00" x2="727.75" y2="231.40" stroke="#5a5a5a" stroke-width="0.45" />
<line x1="729.70" y1="229.00" x2="729.70" y2="231.40" stroke="#5a5a5a" stroke-width="0.45" />
<line x1="731.65" y1="229.00" x2="731.65" y2="231.40" stroke="#5a5a5a" stroke-width="0.45" />
<line x1="693.60" y1="230.40" x2="733.00" y2="230.40" stroke="#aaa" stroke-width="0.4" />
<rect x="565.30" y="43.20" width="7.30" height="3.90" fill="#0a0a0a" />
<rect x="572.60" y="43.20" width="15.60" height="3.90" fill="#fff" />
<line x1="572.60" y1="43.50" x2="588.20" y2="43.50" stroke="#b0b0b0" stroke-width="0.55" />
<line x1="572.60" y1="46.80" x2="588.20" y2="46.80" stroke="#b0b0b0" stroke-width="0.55" />
<line x1="572.60" y1="45.15" x2="588.20" y2="45.15" stroke="#e2e2e2" stroke-width="0.5" />
<rect x="588.20" y="43.20" width="49.60" height="3.90" fill="#0a0a0a" />
<rect x="637.80" y="43.20" width="16.60" height="3.90" fill="#fff" />
<line x1="637.80" y1="43.50" x2="654.40" y2="43.50" stroke="#b0b0b0" stroke-width="0.55" />
<line x1="637.80" y1="46.80" x2="654.40" y2="46.80" stroke="#b0b0b0" stroke-width="0.55" />
<line x1="637.80" y1="45.15" x2="654.40" y2="45.15" stroke="#e2e2e2" stroke-width="0.5" />
<rect x="654.40" y="43.20" width="24.20" height="3.90" fill="#0a0a0a" />
<rect x="678.60" y="43.20" width="30.80" height="3.90" fill="#fff" />
<line x1="678.60" y1="43.50" x2="709.40" y2="43.50" stroke="#b0b0b0" stroke-width="0.55" />
<line x1="678.60" y1="46.80" x2="709.40" y2="46.80" stroke="#b0b0b0" stroke-width="0.55" />
<line x1="678.60" y1="45.15" x2="709.40" y2="45.15" stroke="#e2e2e2" stroke-width="0.5" />
<rect x="709.40" y="43.20" width="27.60" height="3.90" fill="#0a0a0a" />
<rect x="733.40" y="43.20" width="3.60" height="72.60" fill="#0a0a0a" />
<rect x="733.40" y="115.80" width="3.60" height="17.50" fill="#fff" />
<line x1="733.70" y1="115.80" x2="733.70" y2="133.30" stroke="#b0b0b0" stroke-width="0.55" />
<line x1="736.70" y1="115.80" x2="736.70" y2="133.30" stroke="#b0b0b0" stroke-width="0.55" />
<line x1="735.20" y1="115.80" x2="735.20" y2="133.30" stroke="#e2e2e2" stroke-width="0.5" />
<rect x="733.40" y="133.30" width="3.60" height="70.70" fill="#0a0a0a" />
<rect x="733.40" y="204.00" width="3.60" height="19.00" fill="#fff" />
<line x1="733.70" y1="204.00" x2="733.70" y2="223.00" stroke="#b0b0b0" stroke-width="0.55" />
<line x1="736.70" y1="204.00" x2="736.70" y2="223.00" stroke="#b0b0b0" stroke-width="0.55" />
<line x1="735.20" y1="204.00" x2="735.20" y2="223.00" stroke="#e2e2e2" stroke-width="0.5" />
<rect x="733.40" y="223.00" width="3.60" height="76.60" fill="#0a0a0a" />
<rect x="565.30" y="43.20" width="3.10" height="49.50" fill="#0a0a0a" />
<rect x="566.20" y="92.70" width="2.30" height="73.30" fill="#0a0a0a" />
<rect x="566.20" y="182.20" width="2.30" height="3.80" fill="#0a0a0a" />
<rect x="487.20" y="101.50" width="4.40" height="4.70" fill="#0a0a0a" />
<rect x="489.60" y="92.70" width="1.40" height="8.80" fill="#333" />
<rect x="487.20" y="89.70" width="78.80" height="3.00" fill="#0a0a0a" />
<rect x="487.20" y="89.70" width="3.00" height="17.10" fill="#0a0a0a" />
<rect x="487.20" y="106.80" width="3.00" height="12.10" fill="#fff" />
<line x1="487.50" y1="106.80" x2="487.50" y2="118.90" stroke="#b0b0b0" stroke-width="0.55" />
<line x1="489.90" y1="106.80" x2="489.90" y2="118.90" stroke="#b0b0b0" stroke-width="0.55" />
<line x1="488.70" y1="106.80" x2="488.70" y2="118.90" stroke="#e2e2e2" stroke-width="0.5" />
<rect x="487.20" y="118.90" width="3.00" height="34.60" fill="#0a0a0a" />
<rect x="487.20" y="153.50" width="3.00" height="34.50" fill="#fff" />
<line x1="487.50" y1="153.50" x2="487.50" y2="188.00" stroke="#b0b0b0" stroke-width="0.55" />
<line x1="489.90" y1="153.50" x2="489.90" y2="188.00" stroke="#b0b0b0" stroke-width="0.55" />
<line x1="488.70" y1="153.50" x2="488.70" y2="188.00" stroke="#e2e2e2" stroke-width="0.5" />
<rect x="487.20" y="188.00" width="3.00" height="16.50" fill="#0a0a0a" />
<rect x="487.20" y="201.60" width="80.20" height="2.90" fill="#0a0a0a" />
<rect x="564.00" y="201.60" width="3.60" height="15.50" fill="#0a0a0a" />
<rect x="564.90" y="213.20" width="62.20" height="3.90" fill="#0a0a0a" />
<rect x="627.00" y="213.20" width="10.00" height="2.20" fill="#0a0a0a" />
<rect x="534.20" y="92.70" width="2.80" height="29.70" fill="#0a0a0a" />
<rect x="490.00" y="120.40" width="3.40" height="2.10" fill="#0a0a0a" />
<rect x="505.30" y="120.40" width="33.30" height="2.10" fill="#0a0a0a" />
<rect x="551.60" y="120.40" width="14.40" height="2.10" fill="#0a0a0a" />
<line x1="493.40" y1="121.40" x2="493.40" y2="109.00" stroke="#686868" stroke-width="0.6" />
<path d="M493.40,109.00 A12.40,12.40 0 0 1 505.40,121.40" stroke="#a0a0a0" stroke-width="0.5" fill="none" />
<line x1="539.00" y1="121.40" x2="539.00" y2="108.80" stroke="#686868" stroke-width="0.6" />
<path d="M539.00,108.80 A12.60,12.60 0 0 1 551.60,121.40" stroke="#a0a0a0" stroke-width="0.5" fill="none" />
<line x1="566.60" y1="180.40" x2="552.80" y2="180.40" stroke="#686868" stroke-width="0.6" />
<path d="M552.80,180.40 A13.80,13.80 0 0 1 566.60,166.40" stroke="#a0a0a0" stroke-width="0.5" fill="none" />
<rect x="568.00" y="108.40" width="91.60" height="2.10" fill="#0a0a0a" />
<rect x="657.60" y="108.40" width="2.20" height="17.40" fill="#0a0a0a" />
<polygon points="659.80,121.20 663.60,125.80 659.80,125.80" fill="#0a0a0a" stroke="none" stroke-width="0.5"/>
<rect x="657.70" y="83.00" width="4.30" height="26.40" rx="0" fill="#fafafa" stroke="#8a8a8a" stroke-width="0.5" />
<line x1="657.50" y1="47.00" x2="657.50" y2="83.00" stroke="#b0b0b0" stroke-width="0.5" />
<polyline points="615.00,160.70 601.60,160.70 617.40,144.40 636.80,144.40 636.80,146.40" stroke="#0a0a0a" stroke-width="2.2" fill="none" stroke-linejoin="miter" stroke-linecap="butt"/>
<polyline points="625.40,160.70 636.80,160.70 636.80,156.40" stroke="#0a0a0a" stroke-width="2.2" fill="none" stroke-linejoin="miter" stroke-linecap="butt"/>
<line x1="625.40" y1="160.70" x2="625.40" y2="171.20" stroke="#686868" stroke-width="0.6" />
<path d="M625.40,171.20 A10.50,10.50 0 0 1 615.00,160.70" stroke="#a0a0a0" stroke-width="0.5" fill="none" />
<line x1="636.80" y1="156.70" x2="646.40" y2="156.70" stroke="#686868" stroke-width="0.6" />
<path d="M646.40,156.70 A9.60,9.60 0 0 0 636.80,147.00" stroke="#a0a0a0" stroke-width="0.5" fill="none" />
<rect x="566.70" y="183.60" width="43.50" height="2.20" fill="#0a0a0a" />
<rect x="623.00" y="183.60" width="14.00" height="2.20" fill="#0a0a0a" />
<rect x="624.40" y="184.00" width="2.70" height="31.20" fill="#0a0a0a" />
<line x1="624.20" y1="186.00" x2="624.20" y2="199.20" stroke="#686868" stroke-width="0.6" />
<path d="M624.20,199.20 A13.20,13.20 0 0 1 610.60,186.00" stroke="#a0a0a0" stroke-width="0.5" fill="none" />
<rect x="634.90" y="184.00" width="2.30" height="6.00" fill="#0a0a0a" />
<rect x="634.90" y="209.30" width="2.30" height="28.60" fill="#0a0a0a" />
<line x1="637.00" y1="190.00" x2="646.60" y2="190.00" stroke="#686868" stroke-width="0.5" />
<path d="M646.60,190.00 A9.60,9.60 0 0 1 637.00,199.60" stroke="#a0a0a0" stroke-width="0.5" fill="none" />
<line x1="637.00" y1="209.30" x2="646.60" y2="209.30" stroke="#686868" stroke-width="0.5" />
<path d="M646.60,209.30 A9.60,9.60 0 0 0 637.00,199.70" stroke="#a0a0a0" stroke-width="0.5" fill="none" />
<rect x="604.00" y="215.00" width="3.50" height="88.40" fill="#0a0a0a" />
<rect x="604.00" y="300.20" width="12.30" height="3.20" fill="#0a0a0a" />
<rect x="616.30" y="300.20" width="16.90" height="3.20" fill="#fff" />
<line x1="616.30" y1="300.50" x2="633.20" y2="300.50" stroke="#b0b0b0" stroke-width="0.55" />
<line x1="616.30" y1="303.10" x2="633.20" y2="303.10" stroke="#b0b0b0" stroke-width="0.55" />
<line x1="616.30" y1="301.80" x2="633.20" y2="301.80" stroke="#e2e2e2" stroke-width="0.5" />
<rect x="633.20" y="300.20" width="17.50" height="3.20" fill="#0a0a0a" />
<rect x="650.70" y="300.20" width="16.10" height="3.20" fill="#fff" />
<line x1="650.70" y1="300.50" x2="666.80" y2="300.50" stroke="#b0b0b0" stroke-width="0.55" />
<line x1="650.70" y1="303.10" x2="666.80" y2="303.10" stroke="#b0b0b0" stroke-width="0.55" />
<line x1="650.70" y1="301.80" x2="666.80" y2="301.80" stroke="#e2e2e2" stroke-width="0.5" />
<rect x="666.80" y="300.20" width="3.90" height="3.20" fill="#0a0a0a" />
<rect x="667.80" y="236.00" width="2.90" height="67.40" fill="#0a0a0a" />
<rect x="604.00" y="235.60" width="9.70" height="2.30" fill="#0a0a0a" />
<rect x="628.50" y="235.60" width="21.80" height="2.30" fill="#0a0a0a" />
<rect x="664.90" y="235.60" width="5.80" height="2.30" fill="#0a0a0a" />
<line x1="613.90" y1="237.90" x2="613.90" y2="252.50" stroke="#686868" stroke-width="0.6" />
<path d="M613.90,252.50 A14.60,14.60 0 0 0 628.50,237.90" stroke="#a0a0a0" stroke-width="0.5" fill="none" />
<line x1="664.70" y1="237.90" x2="664.70" y2="252.50" stroke="#686868" stroke-width="0.6" />
<path d="M664.70,252.50 A14.60,14.60 0 0 1 650.30,237.90" stroke="#a0a0a0" stroke-width="0.5" fill="none" />
<rect x="670.70" y="296.30" width="17.50" height="3.30" fill="#0a0a0a" />
<rect x="688.20" y="296.30" width="32.20" height="3.30" fill="#fff" />
<line x1="688.20" y1="296.60" x2="720.40" y2="296.60" stroke="#b0b0b0" stroke-width="0.55" />
<line x1="688.20" y1="299.30" x2="720.40" y2="299.30" stroke="#b0b0b0" stroke-width="0.55" />
<line x1="688.20" y1="297.95" x2="720.40" y2="297.95" stroke="#e2e2e2" stroke-width="0.5" />
<rect x="720.40" y="296.30" width="16.60" height="3.30" fill="#0a0a0a" />
<rect x="691.20" y="218.50" width="2.40" height="19.40" fill="#0a0a0a" />
<rect x="692.00" y="225.60" width="42.00" height="2.60" fill="#0a0a0a" />
<rect x="691.20" y="235.60" width="6.40" height="2.30" fill="#0a0a0a" />
<rect x="727.20" y="235.60" width="6.80" height="2.30" fill="#0a0a0a" />
<line x1="697.80" y1="237.90" x2="697.80" y2="252.00" stroke="#686868" stroke-width="0.6" />
<path d="M697.80,252.00 A14.10,14.10 0 0 0 712.20,237.90" stroke="#a0a0a0" stroke-width="0.5" fill="none" />
<line x1="727.00" y1="237.90" x2="727.00" y2="252.00" stroke="#686868" stroke-width="0.6" />
<path d="M727.00,252.00 A14.10,14.10 0 0 1 712.60,237.90" stroke="#a0a0a0" stroke-width="0.5" fill="none" />
<rect x="657.30" y="165.70" width="1.90" height="53.80" fill="#0a0a0a" />
<rect x="657.30" y="217.60" width="36.10" height="2.00" fill="#0a0a0a" />
<rect x="675.00" y="196.50" width="1.90" height="21.50" fill="#0a0a0a" />
<rect x="668.40" y="219.40" width="1.50" height="3.00" fill="#0a0a0a" />
<rect x="668.40" y="235.40" width="1.50" height="2.50" fill="#0a0a0a" />
<line x1="669.60" y1="222.30" x2="682.60" y2="222.30" stroke="#686868" stroke-width="0.6" />
<path d="M682.60,222.30 A13.00,13.00 0 0 1 669.60,235.50" stroke="#a0a0a0" stroke-width="0.5" fill="none" />
<rect x="675.00" y="183.60" width="1.40" height="2.80" fill="#0a0a0a" />
<line x1="676.60" y1="186.60" x2="665.20" y2="186.60" stroke="#686868" stroke-width="0.6" />
<path d="M665.20,186.60 A11.40,11.40 0 0 0 676.60,198.00" stroke="#a0a0a0" stroke-width="0.5" fill="none" />
<polyline points="680.60,142.00 682.40,140.20" stroke="#0a0a0a" stroke-width="2.4" fill="none" stroke-linejoin="miter" stroke-linecap="butt"/>
<polyline points="658.40,183.00 658.40,165.90 686.90,138.20 702.50,138.20 702.50,151.20 690.40,151.20" stroke="#0a0a0a" stroke-width="2.1" fill="none" stroke-linejoin="miter" stroke-linecap="butt"/>
<polyline points="702.50,162.80 702.50,169.00 688.40,182.60 657.40,182.60" stroke="#0a0a0a" stroke-width="2.1" fill="none" stroke-linejoin="miter" stroke-linecap="butt"/>
<rect x="702.50" y="162.80" width="2.70" height="3.80" fill="#0a0a0a" />
<line x1="702.50" y1="152.20" x2="690.60" y2="152.20" stroke="#686868" stroke-width="0.5" />
<path d="M690.60,152.20 A11.90,11.90 0 0 0 702.50,163.60" stroke="#a0a0a0" stroke-width="0.5" fill="none" />
<line x1="705.00" y1="166.60" x2="705.00" y2="179.60" stroke="#686868" stroke-width="0.6" />
<path d="M705.00,179.60 A13.00,13.00 0 0 0 717.60,166.60" stroke="#a0a0a0" stroke-width="0.5" fill="none" />
<line x1="663.40" y1="125.20" x2="671.40" y2="117.40" stroke="#686868" stroke-width="0.6" />
<path d="M671.40,117.40 A11.17,11.17 0 0 1 671.60,133.20" stroke="#a0a0a0" stroke-width="0.5" fill="none" />
<line x1="680.00" y1="141.20" x2="688.00" y2="133.00" stroke="#686868" stroke-width="0.6" />
<path d="M688.00,133.00 A11.46,11.46 0 0 0 671.80,133.20" stroke="#a0a0a0" stroke-width="0.5" fill="none" />
<circle cx="671.4" cy="133" r="0.6" fill="#444"/>
<rect x="720.30" y="137.20" width="13.30" height="2.10" fill="#0a0a0a" />
<rect x="720.30" y="137.20" width="2.00" height="5.20" fill="#0a0a0a" />
<rect x="720.30" y="162.80" width="2.00" height="4.10" fill="#0a0a0a" />
<rect x="718.00" y="164.90" width="15.60" height="2.00" fill="#0a0a0a" />
<line x1="721.20" y1="142.40" x2="711.20" y2="142.40" stroke="#686868" stroke-width="0.5" />
<path d="M711.20,142.40 A10.00,10.00 0 0 0 721.20,152.40" stroke="#a0a0a0" stroke-width="0.5" fill="none" />
<line x1="721.20" y1="162.80" x2="711.20" y2="162.80" stroke="#686868" stroke-width="0.5" />
<path d="M711.20,162.80 A10.00,10.00 0 0 1 721.20,152.80" stroke="#a0a0a0" stroke-width="0.5" fill="none" />
<circle cx="721.4" cy="152.6" r="0.5" fill="#444"/>
<g>
</g>
</g>
<g id="basement">
<rect x="491.80" y="395.80" width="44.60" height="17.20" fill="#e9eaea" />
<rect x="491.80" y="395.80" width="9.60" height="60.40" fill="#e9eaea" />
<rect x="491.80" y="441.60" width="50.40" height="14.60" fill="#e9eaea" />
<rect x="507.20" y="402.60" width="12.70" height="11.20" rx="1" fill="#f0f0f0" stroke="#9a9a9a" stroke-width="0.55" />
<line x1="508.00" y1="413.20" x2="519.20" y2="413.20" stroke="#9a9a9a" stroke-width="0.9" />
<rect x="492.00" y="418.20" width="8.40" height="11.70" rx="0.5" fill="#b9babb" stroke="#7c7c7c" stroke-width="0.45" />
<rect x="493.00" y="419.20" width="6.40" height="9.70" rx="0.5" fill="#a8a9ab" stroke="#7c7c7c" stroke-width="0.35" />
<line x1="493.00" y1="424.00" x2="499.40" y2="424.00" stroke="#7c7c7c" stroke-width="0.35" />
<rect x="506.80" y="442.10" width="15.00" height="13.20" rx="1" fill="#b4b5b7" stroke="#6f6f6f" stroke-width="0.6" />
<circle cx="510.6" cy="445.6" r="2.1" fill="#ececec" stroke="#6f6f6f" stroke-width="0.45"/>
<circle cx="517.8" cy="445.6" r="1.7" fill="#ececec" stroke="#6f6f6f" stroke-width="0.45"/>
<circle cx="510.6" cy="451.8" r="1.7" fill="#ececec" stroke="#6f6f6f" stroke-width="0.45"/>
<circle cx="517.8" cy="451.8" r="2.1" fill="#ececec" stroke="#6f6f6f" stroke-width="0.45"/>
<rect x="527.30" y="441.80" width="14.60" height="13.80" rx="1" fill="#e4e5e5" stroke="#8a8a8a" stroke-width="0.55" />
<line x1="528.00" y1="442.60" x2="541.20" y2="442.60" stroke="#8a8a8a" stroke-width="0.9" />
<g stroke="#555" stroke-width="0.45"><line x1="531.6" y1="449.2" x2="537.6" y2="449.2"/><line x1="534.6" y1="446.2" x2="534.6" y2="452.2"/><line x1="532.6" y1="447.2" x2="536.6" y2="451.2"/><line x1="536.6" y1="447.2" x2="532.6" y2="451.2"/></g>
<circle cx="534.6" cy="449.2" r="1.5" fill="none" stroke="#555" stroke-width="0.4"/>
<use href="#chair" transform="translate(516.40,362.00) rotate(-45) scale(0.72)"/>
<use href="#chair" transform="translate(535.80,362.00) rotate(45) scale(0.72)"/>
<use href="#chair" transform="translate(516.60,381.40) rotate(-135) scale(0.72)"/>
<use href="#chair" transform="translate(535.20,381.40) rotate(135) scale(0.72)"/>
<circle cx="526.1" cy="372.7" r="8.8" fill="#e6e7e8" stroke="#8c8c8c" stroke-width="0.55"/>
<rect x="492.00" y="458.50" width="16.20" height="40.70" fill="#e9eaea" />
<rect x="493.20" y="459.60" width="11.20" height="25.80" rx="1.2" fill="#afb0b2" stroke="#6f6f6f" stroke-width="0.5" />
<line x1="498.80" y1="463.60" x2="498.80" y2="468.60" stroke="#666" stroke-width="0.4" />
<circle cx="498.8" cy="469" r="0.7" fill="none" stroke="#666" stroke-width="0.4"/>
<rect x="512.80" y="459.20" width="7.60" height="2.80" rx="0.5" fill="#f0f0f0" stroke="#6f6f6f" stroke-width="0.45" />
<ellipse cx="516.6" cy="466" rx="3.2" ry="4.4" fill="#b4b5b7" stroke="#6f6f6f" stroke-width="0.5"/>
<rect x="526.10" y="458.50" width="12.50" height="11.50" fill="#e9eaea" />
<ellipse cx="532.4" cy="463.6" rx="4.4" ry="2.9" fill="#fafafa" stroke="#777" stroke-width="0.5"/>
<line x1="532.40" y1="461.40" x2="532.40" y2="464.60" stroke="#5a5a5a" stroke-width="0.45" />
<use href="#arm" transform="translate(582.30,358.70) rotate(-45) scale(0.72)"/>
<use href="#arm" transform="translate(656.20,357.90) rotate(45) scale(0.72)"/>
<use href="#sofa" transform="translate(600.3,391) scale(0.72,0.72)"/>
<rect x="605.00" y="345.30" width="31.10" height="7.40" fill="#e9eaea" />
<rect x="559.90" y="414.00" width="7.90" height="4.70" fill="#111" />
<line x1="561.40" y1="416.30" x2="566.20" y2="416.30" stroke="#fff" stroke-width="0.6" />
<rect x="694.10" y="368.10" width="40.90" height="29.40" rx="0" fill="#e6e7e8" stroke="#8c8c8c" stroke-width="0.55" />
<rect x="721.00" y="368.10" width="14.00" height="29.40" rx="0" fill="#e0e1e2" stroke="#8c8c8c" stroke-width="0.45" />
<rect x="723.30" y="369.60" width="9.10" height="12.70" rx="1" fill="#a9abae" stroke="#7a7a7a" stroke-width="0.45" />
<rect x="723.30" y="383.30" width="9.10" height="12.70" rx="1" fill="#a9abae" stroke="#7a7a7a" stroke-width="0.45" />
<path d="M717.4,397.2 L718.2,393.2 L720.4,391.6 L719.8,395 Z" stroke="#666" stroke-width="0.4" fill="#f4f4f4" />
<rect x="728.10" y="351.50" width="6.90" height="9.00" rx="0" fill="#ececec" stroke="#8c8c8c" stroke-width="0.5" />
<line x1="728.50" y1="351.90" x2="728.50" y2="360.10" stroke="#8c8c8c" stroke-width="0.9" />
<rect x="728.10" y="401.70" width="6.90" height="9.70" rx="0" fill="#ececec" stroke="#8c8c8c" stroke-width="0.5" />
<line x1="728.50" y1="402.10" x2="728.50" y2="411.00" stroke="#8c8c8c" stroke-width="0.9" />
<rect x="627.40" y="444.70" width="11.20" height="10.30" fill="#b7b8b9" />
<circle cx="609.8" cy="466.3" r="5.1" fill="#f2f2f2" stroke="#777" stroke-width="0.55"/>
<circle cx="609.8" cy="464" r="1.1" fill="none" stroke="#777" stroke-width="0.4"/><circle cx="609.8" cy="468.8" r="1" fill="none" stroke="#777" stroke-width="0.4"/>
<line x1="609.80" y1="462.00" x2="609.80" y2="470.60" stroke="#777" stroke-width="0.35" />
<line x1="695.00" y1="442.60" x2="698.00" y2="442.60" stroke="#5a5a5a" stroke-width="0.45" />
<line x1="729.20" y1="442.60" x2="733.80" y2="442.60" stroke="#5a5a5a" stroke-width="0.45" />
<line x1="695.00" y1="444.55" x2="698.00" y2="444.55" stroke="#5a5a5a" stroke-width="0.45" />
<line x1="729.20" y1="444.55" x2="733.80" y2="444.55" stroke="#5a5a5a" stroke-width="0.45" />
<line x1="695.00" y1="446.50" x2="698.00" y2="446.50" stroke="#5a5a5a" stroke-width="0.45" />
<line x1="729.20" y1="446.50" x2="733.80" y2="446.50" stroke="#5a5a5a" stroke-width="0.45" />
<line x1="695.00" y1="448.45" x2="698.00" y2="448.45" stroke="#5a5a5a" stroke-width="0.45" />
<line x1="729.20" y1="448.45" x2="733.80" y2="448.45" stroke="#5a5a5a" stroke-width="0.45" />
<line x1="695.00" y1="450.40" x2="698.00" y2="450.40" stroke="#5a5a5a" stroke-width="0.45" />
<line x1="729.20" y1="450.40" x2="733.80" y2="450.40" stroke="#5a5a5a" stroke-width="0.45" />
<line x1="695.00" y1="452.35" x2="698.00" y2="452.35" stroke="#5a5a5a" stroke-width="0.45" />
<line x1="729.20" y1="452.35" x2="733.80" y2="452.35" stroke="#5a5a5a" stroke-width="0.45" />
<line x1="695.00" y1="454.30" x2="698.00" y2="454.30" stroke="#5a5a5a" stroke-width="0.45" />
<line x1="729.20" y1="454.30" x2="733.80" y2="454.30" stroke="#5a5a5a" stroke-width="0.45" />
<line x1="695.00" y1="456.25" x2="698.00" y2="456.25" stroke="#5a5a5a" stroke-width="0.45" />
<line x1="729.20" y1="456.25" x2="733.80" y2="456.25" stroke="#5a5a5a" stroke-width="0.45" />
<line x1="695.00" y1="458.20" x2="698.00" y2="458.20" stroke="#5a5a5a" stroke-width="0.45" />
<line x1="729.20" y1="458.20" x2="733.80" y2="458.20" stroke="#5a5a5a" stroke-width="0.45" />
<line x1="695.00" y1="460.15" x2="698.00" y2="460.15" stroke="#5a5a5a" stroke-width="0.45" />
<line x1="729.20" y1="460.15" x2="733.80" y2="460.15" stroke="#5a5a5a" stroke-width="0.45" />
<line x1="695.00" y1="462.10" x2="698.00" y2="462.10" stroke="#5a5a5a" stroke-width="0.45" />
<line x1="729.20" y1="462.10" x2="733.80" y2="462.10" stroke="#5a5a5a" stroke-width="0.45" />
<line x1="695.00" y1="464.05" x2="698.00" y2="464.05" stroke="#5a5a5a" stroke-width="0.45" />
<line x1="729.20" y1="464.05" x2="733.80" y2="464.05" stroke="#5a5a5a" stroke-width="0.45" />
<line x1="695.00" y1="466.00" x2="698.00" y2="466.00" stroke="#5a5a5a" stroke-width="0.45" />
<line x1="729.20" y1="466.00" x2="733.80" y2="466.00" stroke="#5a5a5a" stroke-width="0.45" />
<line x1="695.00" y1="467.95" x2="698.00" y2="467.95" stroke="#5a5a5a" stroke-width="0.45" />
<line x1="729.20" y1="467.95" x2="733.80" y2="467.95" stroke="#5a5a5a" stroke-width="0.45" />
<line x1="695.00" y1="469.90" x2="698.00" y2="469.90" stroke="#5a5a5a" stroke-width="0.45" />
<line x1="729.20" y1="469.90" x2="733.80" y2="469.90" stroke="#5a5a5a" stroke-width="0.45" />
<line x1="695.00" y1="471.85" x2="698.00" y2="471.85" stroke="#5a5a5a" stroke-width="0.45" />
<line x1="729.20" y1="471.85" x2="733.80" y2="471.85" stroke="#5a5a5a" stroke-width="0.45" />
<line x1="695.00" y1="473.80" x2="698.00" y2="473.80" stroke="#5a5a5a" stroke-width="0.45" />
<line x1="729.20" y1="473.80" x2="733.80" y2="473.80" stroke="#5a5a5a" stroke-width="0.45" />
<line x1="696.60" y1="441.00" x2="696.60" y2="476.00" stroke="#aaa" stroke-width="0.4" />
<line x1="731.40" y1="441.00" x2="731.40" y2="476.00" stroke="#aaa" stroke-width="0.4" />
<line x1="695.40" y1="473.00" x2="695.40" y2="476.80" stroke="#5a5a5a" stroke-width="0.45" />
<line x1="697.35" y1="473.00" x2="697.35" y2="476.80" stroke="#5a5a5a" stroke-width="0.45" />
<line x1="699.30" y1="473.00" x2="699.30" y2="476.80" stroke="#5a5a5a" stroke-width="0.45" />
<line x1="701.25" y1="473.00" x2="701.25" y2="476.80" stroke="#5a5a5a" stroke-width="0.45" />
<line x1="703.20" y1="473.00" x2="703.20" y2="476.80" stroke="#5a5a5a" stroke-width="0.45" />
<line x1="705.15" y1="473.00" x2="705.15" y2="476.80" stroke="#5a5a5a" stroke-width="0.45" />
<line x1="707.10" y1="473.00" x2="707.10" y2="476.80" stroke="#5a5a5a" stroke-width="0.45" />
<line x1="709.05" y1="473.00" x2="709.05" y2="476.80" stroke="#5a5a5a" stroke-width="0.45" />
<line x1="711.00" y1="473.00" x2="711.00" y2="476.80" stroke="#5a5a5a" stroke-width="0.45" />
<line x1="712.95" y1="473.00" x2="712.95" y2="476.80" stroke="#5a5a5a" stroke-width="0.45" />
<line x1="714.90" y1="473.00" x2="714.90" y2="476.80" stroke="#5a5a5a" stroke-width="0.45" />
<line x1="716.85" y1="473.00" x2="716.85" y2="476.80" stroke="#5a5a5a" stroke-width="0.45" />
<line x1="718.80" y1="473.00" x2="718.80" y2="476.80" stroke="#5a5a5a" stroke-width="0.45" />
<line x1="720.75" y1="473.00" x2="720.75" y2="476.80" stroke="#5a5a5a" stroke-width="0.45" />
<line x1="722.70" y1="473.00" x2="722.70" y2="476.80" stroke="#5a5a5a" stroke-width="0.45" />
<line x1="724.65" y1="473.00" x2="724.65" y2="476.80" stroke="#5a5a5a" stroke-width="0.45" />
<line x1="726.60" y1="473.00" x2="726.60" y2="476.80" stroke="#5a5a5a" stroke-width="0.45" />
<line x1="728.55" y1="473.00" x2="728.55" y2="476.80" stroke="#5a5a5a" stroke-width="0.45" />
<line x1="730.50" y1="473.00" x2="730.50" y2="476.80" stroke="#5a5a5a" stroke-width="0.45" />
<line x1="732.45" y1="473.00" x2="732.45" y2="476.80" stroke="#5a5a5a" stroke-width="0.45" />
<line x1="694.40" y1="475.00" x2="734.60" y2="475.00" stroke="#aaa" stroke-width="0.4" />
<polygon points="610.00,420.60 627.00,420.60 627.00,439.40 617.60,439.60 582.00,475.20 567.40,461.20 580.40,448.80" fill="#fff" stroke="none" stroke-width="0.5"/>
<polygon points="610.00,421.20 627.00,421.20 627.00,439.20 617.60,439.20 596.30,459.90 583.90,448.60" fill="#e6e7e7" stroke="none" stroke-width="0.5"/>
<line x1="617.90" y1="421.20" x2="617.90" y2="439.20" stroke="#6e6e6e" stroke-width="0.5" />
<line x1="622.70" y1="421.20" x2="622.70" y2="439.20" stroke="#6e6e6e" stroke-width="0.5" />
<line x1="604.90" y1="427.60" x2="616.80" y2="439.00" stroke="#6e6e6e" stroke-width="0.55" />
<line x1="600.70" y1="431.84" x2="612.60" y2="443.24" stroke="#6e6e6e" stroke-width="0.55" />
<line x1="596.50" y1="436.08" x2="608.40" y2="447.48" stroke="#6e6e6e" stroke-width="0.55" />
<line x1="592.30" y1="440.32" x2="604.20" y2="451.72" stroke="#6e6e6e" stroke-width="0.55" />
<line x1="588.10" y1="444.56" x2="600.00" y2="455.96" stroke="#6e6e6e" stroke-width="0.55" />
<line x1="583.90" y1="448.80" x2="595.80" y2="460.20" stroke="#6e6e6e" stroke-width="0.55" />
<rect x="486.80" y="333.60" width="23.00" height="3.50" fill="#0a0a0a" />
<rect x="509.80" y="333.60" width="16.90" height="3.50" fill="#fff" />
<line x1="509.80" y1="333.90" x2="526.70" y2="333.90" stroke="#b0b0b0" stroke-width="0.55" />
<line x1="509.80" y1="336.80" x2="526.70" y2="336.80" stroke="#b0b0b0" stroke-width="0.55" />
<line x1="509.80" y1="335.35" x2="526.70" y2="335.35" stroke="#e2e2e2" stroke-width="0.5" />
<rect x="526.70" y="333.60" width="2.30" height="3.50" fill="#0a0a0a" />
<rect x="545.90" y="333.60" width="39.30" height="3.50" fill="#0a0a0a" />
<rect x="585.20" y="333.60" width="16.10" height="3.50" fill="#fff" />
<line x1="585.20" y1="333.90" x2="601.30" y2="333.90" stroke="#b0b0b0" stroke-width="0.55" />
<line x1="585.20" y1="336.80" x2="601.30" y2="336.80" stroke="#b0b0b0" stroke-width="0.55" />
<line x1="585.20" y1="335.35" x2="601.30" y2="335.35" stroke="#e2e2e2" stroke-width="0.5" />
<rect x="601.30" y="333.60" width="38.30" height="3.50" fill="#0a0a0a" />
<rect x="639.60" y="333.60" width="17.60" height="3.50" fill="#fff" />
<line x1="639.60" y1="333.90" x2="657.20" y2="333.90" stroke="#b0b0b0" stroke-width="0.55" />
<line x1="639.60" y1="336.80" x2="657.20" y2="336.80" stroke="#b0b0b0" stroke-width="0.55" />
<line x1="639.60" y1="335.35" x2="657.20" y2="335.35" stroke="#e2e2e2" stroke-width="0.5" />
<rect x="657.20" y="333.60" width="33.00" height="3.50" fill="#0a0a0a" />
<rect x="690.20" y="333.60" width="17.10" height="3.50" fill="#fff" />
<line x1="690.20" y1="333.90" x2="707.30" y2="333.90" stroke="#b0b0b0" stroke-width="0.55" />
<line x1="690.20" y1="336.80" x2="707.30" y2="336.80" stroke="#b0b0b0" stroke-width="0.55" />
<line x1="690.20" y1="335.35" x2="707.30" y2="335.35" stroke="#e2e2e2" stroke-width="0.5" />
<rect x="707.30" y="333.60" width="31.50" height="3.50" fill="#0a0a0a" />
<line x1="528.30" y1="337.10" x2="528.30" y2="354.60" stroke="#686868" stroke-width="0.7" />
<path d="M528.30,354.60 A17.50,17.50 0 0 0 545.80,337.10" stroke="#a0a0a0" stroke-width="0.5" fill="none" />
<line x1="529.00" y1="334.00" x2="545.90" y2="334.00" stroke="#c8c8c8" stroke-width="0.5" />
<rect x="486.80" y="333.60" width="3.90" height="18.10" fill="#0a0a0a" />
<rect x="486.80" y="351.70" width="3.90" height="16.50" fill="#fff" />
<line x1="487.10" y1="351.70" x2="487.10" y2="368.20" stroke="#b0b0b0" stroke-width="0.55" />
<line x1="490.40" y1="351.70" x2="490.40" y2="368.20" stroke="#b0b0b0" stroke-width="0.55" />
<line x1="488.75" y1="351.70" x2="488.75" y2="368.20" stroke="#e2e2e2" stroke-width="0.5" />
<rect x="486.80" y="368.20" width="3.90" height="214.50" fill="#0a0a0a" />
<rect x="486.80" y="579.20" width="77.60" height="3.50" fill="#0a0a0a" />
<rect x="560.50" y="579.20" width="3.90" height="16.00" fill="#0a0a0a" />
<rect x="560.50" y="591.80" width="46.70" height="3.40" fill="#0a0a0a" />
<rect x="603.90" y="477.80" width="3.30" height="117.40" fill="#0a0a0a" />
<rect x="603.90" y="477.80" width="134.90" height="3.40" fill="#0a0a0a" />
<rect x="735.00" y="333.60" width="3.80" height="147.60" fill="#0a0a0a" />
<polygon points="606.60,337.00 634.80,337.00 634.80,345.40 629.00,345.40 629.00,343.60 632.60,343.60 632.60,338.40 608.80,338.40 608.80,343.60 612.40,343.60 612.40,345.40 606.60,345.40" fill="#0a0a0a" stroke="none" stroke-width="0.5"/>
<polygon points="609.60,337.80 615.80,337.80 613.60,344.60 609.60,344.60" fill="#a9abad" stroke="#3a3a3a" stroke-width="0.5"/>
<polygon points="625.60,337.80 631.80,337.80 631.80,344.60 627.80,344.60" fill="#a9abad" stroke="#3a3a3a" stroke-width="0.5"/>
<rect x="673.20" y="337.00" width="2.50" height="82.40" fill="#0a0a0a" />
<rect x="673.20" y="435.00" width="2.50" height="6.00" fill="#0a0a0a" />
<line x1="675.60" y1="435.00" x2="690.20" y2="435.00" stroke="#686868" stroke-width="0.6" />
<path d="M690.20,435.00 A14.60,14.60 0 0 0 675.60,420.20" stroke="#a0a0a0" stroke-width="0.5" fill="none" />
<rect x="617.20" y="438.60" width="35.10" height="2.40" fill="#0a0a0a" />
<rect x="669.80" y="438.60" width="36.90" height="2.40" fill="#0a0a0a" />
<rect x="723.90" y="438.60" width="11.10" height="2.40" fill="#0a0a0a" />
<line x1="669.80" y1="441.00" x2="669.80" y2="458.60" stroke="#686868" stroke-width="0.6" />
<path d="M669.80,458.60 A17.60,17.60 0 0 1 652.30,441.00" stroke="#a0a0a0" stroke-width="0.5" fill="none" />
<line x1="706.90" y1="440.00" x2="706.90" y2="423.40" stroke="#686868" stroke-width="0.6" />
<path d="M706.90,423.40 A16.60,16.60 0 0 1 723.50,440.00" stroke="#a0a0a0" stroke-width="0.5" fill="none" />
<rect x="691.60" y="440.90" width="2.60" height="37.10" fill="#0a0a0a" />
<polyline points="580.20,449.40 609.80,420.10 649.60,420.10" stroke="#0a0a0a" stroke-width="2.3" fill="none" stroke-linejoin="miter" stroke-linecap="butt"/>
<rect x="647.40" y="419.20" width="2.30" height="4.20" fill="#0a0a0a" />
<rect x="647.40" y="435.40" width="2.30" height="5.60" fill="#0a0a0a" />
<rect x="626.60" y="419.20" width="2.40" height="21.80" fill="#0a0a0a" />
<line x1="649.40" y1="435.40" x2="662.80" y2="435.40" stroke="#686868" stroke-width="0.6" />
<path d="M662.80,435.40 A13.40,13.40 0 0 0 649.40,422.20" stroke="#a0a0a0" stroke-width="0.5" fill="none" />
<polyline points="652.00,439.80 617.80,439.80 581.60,476.20" stroke="#0a0a0a" stroke-width="2.4" fill="none" stroke-linejoin="miter" stroke-linecap="butt"/>
<polyline points="568.60,460.40 566.00,463.00" stroke="#0a0a0a" stroke-width="2.4" fill="none" stroke-linejoin="miter" stroke-linecap="butt"/>
<polyline points="565.80,479.60 565.80,462.40 567.00,462.20 581.40,476.40 581.40,500.80 562.00,500.80" stroke="#0a0a0a" stroke-width="2.3" fill="none" stroke-linejoin="miter" stroke-linecap="butt"/>
<rect x="564.70" y="494.80" width="2.30" height="7.10" fill="#0a0a0a" />
<line x1="568.00" y1="461.00" x2="558.00" y2="448.60" stroke="#686868" stroke-width="0.8" />
<path d="M558.00,448.60 A15.93,15.93 0 0 1 580.20,449.40" stroke="#a0a0a0" stroke-width="0.5" fill="none" />
<rect x="490.00" y="456.10" width="52.30" height="2.50" fill="#0a0a0a" />
<rect x="540.00" y="456.10" width="2.30" height="23.30" fill="#0a0a0a" />
<rect x="490.00" y="499.80" width="54.70" height="2.40" fill="#0a0a0a" />
<rect x="541.00" y="495.60" width="2.50" height="9.70" fill="#0a0a0a" />
<line x1="542.20" y1="494.20" x2="557.40" y2="494.20" stroke="#686868" stroke-width="0.5" />
<path d="M557.40,494.20 A15.20,15.20 0 0 0 542.20,479.20" stroke="#a0a0a0" stroke-width="0.5" fill="none" />
<line x1="565.40" y1="494.20" x2="550.40" y2="494.20" stroke="#686868" stroke-width="0.5" />
<path d="M550.40,494.20 A15.00,15.00 0 0 1 565.40,479.40" stroke="#a0a0a0" stroke-width="0.5" fill="none" />
<line x1="561.40" y1="501.80" x2="561.40" y2="518.60" stroke="#686868" stroke-width="0.6" />
<path d="M561.40,518.60 A16.80,16.80 0 0 1 544.80,501.80" stroke="#a0a0a0" stroke-width="0.5" fill="none" />
<rect x="540.00" y="523.80" width="2.50" height="55.80" fill="#0a0a0a" />
<g>
</g>
</g>
<g id="logo">
<rect x="0.00" y="602.80" width="103.20" height="34.20" fill="#606060" />
</g>
<g filter="url(#gray)"><rect x="24.20" y="27.18" width="71.90" height="10.82" fill="#fff" opacity="0.55"/>
<text x="25.00" y="37.10" font-size="12.6" textLength="70.30" lengthAdjust="spacingAndGlyphs" font-weight="normal" fill="#fff" stroke="#fff" stroke-width="1.6" stroke-linejoin="round">MAIN FLOOR</text>
<text x="25.00" y="37.10" font-size="12.6" textLength="70.30" lengthAdjust="spacingAndGlyphs" font-weight="normal" fill="#1a1a1a" stroke="#1a1a1a" stroke-width="0.28">MAIN FLOOR</text>
<rect x="180.60" y="101.26" width="41.20" height="7.24" fill="#fff" opacity="0.55"/>
<text x="181.40" y="107.60" font-size="7.6" textLength="39.60" lengthAdjust="spacingAndGlyphs" font-weight="normal" fill="#fff" stroke="#fff" stroke-width="1.6" stroke-linejoin="round">SUNROOM</text>
<text x="181.40" y="107.60" font-size="7.6" textLength="39.60" lengthAdjust="spacingAndGlyphs" font-weight="normal" fill="#222" stroke="#222" stroke-width="0.2">SUNROOM</text>
<rect x="71.50" y="224.43" width="34.00" height="7.17" fill="#fff" opacity="0.55"/>
<text x="72.30" y="230.70" font-size="7.5" textLength="32.40" lengthAdjust="spacingAndGlyphs" font-weight="normal" fill="#fff" stroke="#fff" stroke-width="1.6" stroke-linejoin="round">KITCHEN</text>
<text x="72.30" y="230.70" font-size="7.5" textLength="32.40" lengthAdjust="spacingAndGlyphs" font-weight="normal" fill="#222" stroke="#222" stroke-width="0.2">KITCHEN</text>
<rect x="200.20" y="221.23" width="52.80" height="7.17" fill="#fff" opacity="0.55"/>
<text x="201.00" y="227.50" font-size="7.5" textLength="51.20" lengthAdjust="spacingAndGlyphs" font-weight="normal" fill="#fff" stroke="#fff" stroke-width="1.6" stroke-linejoin="round">FAMILY ROOM</text>
<text x="201.00" y="227.50" font-size="7.5" textLength="51.20" lengthAdjust="spacingAndGlyphs" font-weight="normal" fill="#222" stroke="#222" stroke-width="0.2">FAMILY ROOM</text>
<rect x="331.50" y="228.23" width="40.90" height="7.17" fill="#fff" opacity="0.55"/>
<text x="332.30" y="234.50" font-size="7.5" textLength="39.30" lengthAdjust="spacingAndGlyphs" font-weight="normal" fill="#fff" stroke="#fff" stroke-width="1.6" stroke-linejoin="round">BEDROOM</text>
<text x="332.30" y="234.50" font-size="7.5" textLength="39.30" lengthAdjust="spacingAndGlyphs" font-weight="normal" fill="#222" stroke="#222" stroke-width="0.2">BEDROOM</text>
<rect x="283.50" y="297.19" width="36.10" height="7.31" fill="#fff" opacity="0.55"/>
<text x="284.30" y="303.60" font-size="7.7" textLength="34.50" lengthAdjust="spacingAndGlyphs" font-weight="normal" fill="#fff" stroke="#fff" stroke-width="1.6" stroke-linejoin="round">HALLWAY</text>
<text x="284.30" y="303.60" font-size="7.7" textLength="34.50" lengthAdjust="spacingAndGlyphs" font-weight="normal" fill="#222" stroke="#222" stroke-width="0.2">HALLWAY</text>
<rect x="237.00" y="344.53" width="37.20" height="7.17" fill="#fff" opacity="0.55"/>
<text x="237.80" y="350.80" font-size="7.5" textLength="35.60" lengthAdjust="spacingAndGlyphs" font-weight="normal" fill="#fff" stroke="#fff" stroke-width="1.6" stroke-linejoin="round">LAUNDRY</text>
<text x="237.80" y="350.80" font-size="7.5" textLength="35.60" lengthAdjust="spacingAndGlyphs" font-weight="normal" fill="#222" stroke="#222" stroke-width="0.2">LAUNDRY</text>
<rect x="330.70" y="333.73" width="45.10" height="7.17" fill="#fff" opacity="0.55"/>
<text x="331.50" y="340.00" font-size="7.5" textLength="43.50" lengthAdjust="spacingAndGlyphs" font-weight="normal" fill="#fff" stroke="#fff" stroke-width="1.6" stroke-linejoin="round">BATHROOM</text>
<text x="331.50" y="340.00" font-size="7.5" textLength="43.50" lengthAdjust="spacingAndGlyphs" font-weight="normal" fill="#222" stroke="#222" stroke-width="0.2">BATHROOM</text>
<rect x="79.40" y="355.63" width="54.40" height="7.17" fill="#fff" opacity="0.55"/>
<text x="80.20" y="361.90" font-size="7.5" textLength="52.80" lengthAdjust="spacingAndGlyphs" font-weight="normal" fill="#fff" stroke="#fff" stroke-width="1.6" stroke-linejoin="round">DINING ROOM</text>
<text x="80.20" y="361.90" font-size="7.5" textLength="52.80" lengthAdjust="spacingAndGlyphs" font-weight="normal" fill="#222" stroke="#222" stroke-width="0.2">DINING ROOM</text>
<rect x="62.10" y="455.13" width="52.70" height="7.17" fill="#fff" opacity="0.55"/>
<text x="62.90" y="461.40" font-size="7.5" textLength="51.10" lengthAdjust="spacingAndGlyphs" font-weight="normal" fill="#fff" stroke="#fff" stroke-width="1.6" stroke-linejoin="round">LIVING ROOM</text>
<text x="62.90" y="461.40" font-size="7.5" textLength="51.10" lengthAdjust="spacingAndGlyphs" font-weight="normal" fill="#222" stroke="#222" stroke-width="0.2">LIVING ROOM</text>
<rect x="161.30" y="464.53" width="25.80" height="7.17" fill="#fff" opacity="0.55"/>
<text x="162.10" y="470.80" font-size="7.5" textLength="24.20" lengthAdjust="spacingAndGlyphs" font-weight="normal" fill="#fff" stroke="#fff" stroke-width="1.6" stroke-linejoin="round">FOYER</text>
<text x="162.10" y="470.80" font-size="7.5" textLength="24.20" lengthAdjust="spacingAndGlyphs" font-weight="normal" fill="#222" stroke="#222" stroke-width="0.2">FOYER</text>
<rect x="285.40" y="462.63" width="32.90" height="7.17" fill="#fff" opacity="0.55"/>
<text x="286.20" y="468.90" font-size="7.5" textLength="31.30" lengthAdjust="spacingAndGlyphs" font-weight="normal" fill="#fff" stroke="#fff" stroke-width="1.6" stroke-linejoin="round">GARAGE</text>
<text x="286.20" y="468.90" font-size="7.5" textLength="31.30" lengthAdjust="spacingAndGlyphs" font-weight="normal" fill="#222" stroke="#222" stroke-width="0.2">GARAGE</text>
<rect x="423.20" y="26.98" width="90.20" height="10.82" fill="#fff" opacity="0.55"/>
<text x="424.00" y="36.90" font-size="12.6" textLength="88.60" lengthAdjust="spacingAndGlyphs" font-weight="normal" fill="#fff" stroke="#fff" stroke-width="1.6" stroke-linejoin="round">SECOND FLOOR</text>
<text x="424.00" y="36.90" font-size="12.6" textLength="88.60" lengthAdjust="spacingAndGlyphs" font-weight="normal" fill="#1a1a1a" stroke="#1a1a1a" stroke-width="0.28">SECOND FLOOR</text>
<text x="594.00" y="78.00" font-size="6.16" textLength="38.00" lengthAdjust="spacingAndGlyphs" font-weight="normal" fill="#1c1c1c" stroke="#1c1c1c" stroke-width="0.2">SITTING ROOM</text>
<rect x="670.00" y="89.07" width="51.90" height="6.13" fill="#fff" opacity="0.55"/>
<text x="670.80" y="94.30" font-size="6.05" textLength="50.30" lengthAdjust="spacingAndGlyphs" font-weight="normal" fill="#fff" stroke="#fff" stroke-width="1.6" stroke-linejoin="round">PRIMARY BEDROOM</text>
<text x="670.80" y="94.30" font-size="6.05" textLength="50.30" lengthAdjust="spacingAndGlyphs" font-weight="normal" fill="#1c1c1c" stroke="#1c1c1c" stroke-width="0.2">PRIMARY BEDROOM</text>
<rect x="497.20" y="101.85" width="30.90" height="6.05" fill="#fff" opacity="0.55"/>
<text x="498.00" y="107.00" font-size="5.94" textLength="29.30" lengthAdjust="spacingAndGlyphs" font-weight="normal" fill="#fff" stroke="#fff" stroke-width="1.1" stroke-linejoin="round">BATHROOM</text>
<text x="498.00" y="107.00" font-size="5.94" textLength="29.30" lengthAdjust="spacingAndGlyphs" font-weight="normal" fill="#1c1c1c" stroke="#1c1c1c" stroke-width="0.16">BATHROOM</text>
<rect x="542.50" y="102.82" width="18.20" height="4.88" fill="#fff" opacity="0.55"/>
<text x="543.30" y="106.80" font-size="4.3" textLength="16.60" lengthAdjust="spacingAndGlyphs" font-weight="bold" fill="#fff" stroke="#fff" stroke-width="1.1" stroke-linejoin="round">WALK-IN</text>
<text x="543.30" y="106.80" font-size="4.3" textLength="16.60" lengthAdjust="spacingAndGlyphs" font-weight="bold" fill="#2a2a2a" stroke="#2a2a2a" stroke-width="0.01">WALK-IN</text>
<rect x="514.20" y="157.05" width="28.50" height="6.05" fill="#fff" opacity="0.55"/>
<text x="515.00" y="162.20" font-size="5.94" textLength="26.90" lengthAdjust="spacingAndGlyphs" font-weight="normal" fill="#fff" stroke="#fff" stroke-width="1.1" stroke-linejoin="round">BEDROOM</text>
<text x="515.00" y="162.20" font-size="5.94" textLength="26.90" lengthAdjust="spacingAndGlyphs" font-weight="normal" fill="#1c1c1c" stroke="#1c1c1c" stroke-width="0.16">BEDROOM</text>
<rect x="590.50" y="168.13" width="24.70" height="5.97" fill="#fff" opacity="0.55"/>
<text x="591.30" y="173.20" font-size="5.83" textLength="23.10" lengthAdjust="spacingAndGlyphs" font-weight="normal" fill="#fff" stroke="#fff" stroke-width="1.1" stroke-linejoin="round">HALLWAY</text>
<text x="591.30" y="173.20" font-size="5.83" textLength="23.10" lengthAdjust="spacingAndGlyphs" font-weight="normal" fill="#1c1c1c" stroke="#1c1c1c" stroke-width="0.16">HALLWAY</text>
<rect x="669.40" y="160.34" width="22.50" height="5.66" fill="#fff" opacity="0.55"/>
<text x="670.20" y="165.10" font-size="5.39" textLength="20.90" lengthAdjust="spacingAndGlyphs" font-weight="normal" fill="#fff" stroke="#fff" stroke-width="1.1" stroke-linejoin="round">WALK-IN</text>
<text x="670.20" y="165.10" font-size="5.39" textLength="20.90" lengthAdjust="spacingAndGlyphs" font-weight="normal" fill="#1c1c1c" stroke="#1c1c1c" stroke-width="0.16">WALK-IN</text>
<rect x="689.60" y="185.60" width="31.60" height="5.90" fill="#fff" opacity="0.55"/>
<text x="690.40" y="190.60" font-size="5.72" textLength="30.00" lengthAdjust="spacingAndGlyphs" font-weight="normal" fill="#fff" stroke="#fff" stroke-width="1.1" stroke-linejoin="round">BATHROOM</text>
<text x="690.40" y="190.60" font-size="5.72" textLength="30.00" lengthAdjust="spacingAndGlyphs" font-weight="normal" fill="#1c1c1c" stroke="#1c1c1c" stroke-width="0.16">BATHROOM</text>
<rect x="581.60" y="194.83" width="30.80" height="5.97" fill="#fff" opacity="0.55"/>
<text x="582.40" y="199.90" font-size="5.83" textLength="29.20" lengthAdjust="spacingAndGlyphs" font-weight="normal" fill="#fff" stroke="#fff" stroke-width="1.1" stroke-linejoin="round">BATHROOM</text>
<text x="582.40" y="199.90" font-size="5.83" textLength="29.20" lengthAdjust="spacingAndGlyphs" font-weight="normal" fill="#1c1c1c" stroke="#1c1c1c" stroke-width="0.16">BATHROOM</text>
<rect x="624.10" y="264.40" width="27.90" height="5.90" fill="#fff" opacity="0.55"/>
<text x="624.90" y="269.40" font-size="5.72" textLength="26.30" lengthAdjust="spacingAndGlyphs" font-weight="normal" fill="#fff" stroke="#fff" stroke-width="1.1" stroke-linejoin="round">BEDROOM</text>
<text x="624.90" y="269.40" font-size="5.72" textLength="26.30" lengthAdjust="spacingAndGlyphs" font-weight="normal" fill="#1c1c1c" stroke="#1c1c1c" stroke-width="0.16">BEDROOM</text>
<rect x="688.30" y="253.30" width="27.60" height="5.90" fill="#fff" opacity="0.55"/>
<text x="689.10" y="258.30" font-size="5.72" textLength="26.00" lengthAdjust="spacingAndGlyphs" font-weight="normal" fill="#fff" stroke="#fff" stroke-width="1.1" stroke-linejoin="round">BEDROOM</text>
<text x="689.10" y="258.30" font-size="5.72" textLength="26.00" lengthAdjust="spacingAndGlyphs" font-weight="normal" fill="#1c1c1c" stroke="#1c1c1c" stroke-width="0.16">BEDROOM</text>
<rect x="609.80" y="149.62" width="23.60" height="4.08" fill="#fff" opacity="0.55"/>
<text x="610.60" y="152.80" font-size="3.19" textLength="22.00" lengthAdjust="spacingAndGlyphs" font-weight="normal" fill="#fff" stroke="#fff" stroke-width="1.1" stroke-linejoin="round">UTILITY ROOM</text>
<text x="610.60" y="152.80" font-size="3.19" textLength="22.00" lengthAdjust="spacingAndGlyphs" font-weight="normal" fill="#333" stroke="#333" stroke-width="0.16">UTILITY ROOM</text>
<rect x="639.00" y="187.25" width="15.60" height="3.85" fill="#fff" opacity="0.55"/>
<text x="639.80" y="190.20" font-size="2.86" textLength="14.00" lengthAdjust="spacingAndGlyphs" font-weight="normal" fill="#fff" stroke="#fff" stroke-width="1.1" stroke-linejoin="round">HALLWAY</text>
<text x="639.80" y="190.20" font-size="2.86" textLength="14.00" lengthAdjust="spacingAndGlyphs" font-weight="normal" fill="#333" stroke="#333" stroke-width="0.16">HALLWAY</text>
<rect x="663.60" y="197.89" width="5.40" height="4.01" fill="#fff" opacity="0.55"/>
<text x="664.40" y="201.00" font-size="3.08" textLength="3.80" lengthAdjust="spacingAndGlyphs" font-weight="normal" fill="#fff" stroke="#fff" stroke-width="1.1" stroke-linejoin="round">WC</text>
<text x="664.40" y="201.00" font-size="3.08" textLength="3.80" lengthAdjust="spacingAndGlyphs" font-weight="normal" fill="#333" stroke="#333" stroke-width="0.16">WC</text>
<rect x="423.40" y="317.22" width="62.40" height="10.68" fill="#fff" opacity="0.55"/>
<text x="424.20" y="327.00" font-size="12.4" textLength="60.80" lengthAdjust="spacingAndGlyphs" font-weight="normal" fill="#fff" stroke="#fff" stroke-width="1.6" stroke-linejoin="round">BASEMENT</text>
<text x="424.20" y="327.00" font-size="12.4" textLength="60.80" lengthAdjust="spacingAndGlyphs" font-weight="normal" fill="#1a1a1a" stroke="#1a1a1a" stroke-width="0.28">BASEMENT</text>
<rect x="509.40" y="361.69" width="39.90" height="6.21" fill="#fff" opacity="0.55"/>
<text x="510.20" y="367.00" font-size="6.16" textLength="38.30" lengthAdjust="spacingAndGlyphs" font-weight="normal" fill="#fff" stroke="#fff" stroke-width="1.6" stroke-linejoin="round">DINING ROOM</text>
<text x="510.20" y="367.00" font-size="6.16" textLength="38.30" lengthAdjust="spacingAndGlyphs" font-weight="normal" fill="#1c1c1c" stroke="#1c1c1c" stroke-width="0.2">DINING ROOM</text>
<rect x="601.30" y="372.95" width="38.20" height="6.05" fill="#fff" opacity="0.55"/>
<text x="602.10" y="378.10" font-size="5.94" textLength="36.60" lengthAdjust="spacingAndGlyphs" font-weight="normal" fill="#fff" stroke="#fff" stroke-width="1.1" stroke-linejoin="round">FAMILY ROOM</text>
<text x="602.10" y="378.10" font-size="5.94" textLength="36.60" lengthAdjust="spacingAndGlyphs" font-weight="normal" fill="#1c1c1c" stroke="#1c1c1c" stroke-width="0.16">FAMILY ROOM</text>
<rect x="690.40" y="383.55" width="29.20" height="6.05" fill="#fff" opacity="0.55"/>
<text x="691.20" y="388.70" font-size="5.94" textLength="27.60" lengthAdjust="spacingAndGlyphs" font-weight="normal" fill="#fff" stroke="#fff" stroke-width="1.1" stroke-linejoin="round">BEDROOM</text>
<text x="691.20" y="388.70" font-size="5.94" textLength="27.60" lengthAdjust="spacingAndGlyphs" font-weight="normal" fill="#1c1c1c" stroke="#1c1c1c" stroke-width="0.16">BEDROOM</text>
<rect x="516.70" y="420.65" width="24.80" height="6.05" fill="#fff" opacity="0.55"/>
<text x="517.50" y="425.80" font-size="5.94" textLength="23.20" lengthAdjust="spacingAndGlyphs" font-weight="normal" fill="#fff" stroke="#fff" stroke-width="1.1" stroke-linejoin="round">KITCHEN</text>
<text x="517.50" y="425.80" font-size="5.94" textLength="23.20" lengthAdjust="spacingAndGlyphs" font-weight="normal" fill="#1c1c1c" stroke="#1c1c1c" stroke-width="0.16">KITCHEN</text>
<rect x="617.40" y="454.73" width="40.10" height="5.97" fill="#fff" opacity="0.55"/>
<text x="618.20" y="459.80" font-size="5.83" textLength="38.50" lengthAdjust="spacingAndGlyphs" font-weight="normal" fill="#fff" stroke="#fff" stroke-width="1.1" stroke-linejoin="round">UTILITY ROOM</text>
<text x="618.20" y="459.80" font-size="5.83" textLength="38.50" lengthAdjust="spacingAndGlyphs" font-weight="normal" fill="#1c1c1c" stroke="#1c1c1c" stroke-width="0.16">UTILITY ROOM</text>
<rect x="702.60" y="454.88" width="23.40" height="5.82" fill="#fff" opacity="0.55"/>
<text x="703.40" y="459.80" font-size="5.61" textLength="21.80" lengthAdjust="spacingAndGlyphs" font-weight="normal" fill="#fff" stroke="#fff" stroke-width="1.1" stroke-linejoin="round">WALK-IN</text>
<text x="703.40" y="459.80" font-size="5.61" textLength="21.80" lengthAdjust="spacingAndGlyphs" font-weight="normal" fill="#1c1c1c" stroke="#1c1c1c" stroke-width="0.16">WALK-IN</text>
<rect x="499.20" y="474.05" width="32.60" height="6.05" fill="#fff" opacity="0.55"/>
<text x="500.00" y="479.20" font-size="5.94" textLength="31.00" lengthAdjust="spacingAndGlyphs" font-weight="normal" fill="#fff" stroke="#fff" stroke-width="1.1" stroke-linejoin="round">BATHROOM</text>
<text x="500.00" y="479.20" font-size="5.94" textLength="31.00" lengthAdjust="spacingAndGlyphs" font-weight="normal" fill="#1c1c1c" stroke="#1c1c1c" stroke-width="0.16">BATHROOM</text>
<rect x="501.90" y="535.63" width="26.90" height="5.97" fill="#fff" opacity="0.55"/>
<text x="502.70" y="540.70" font-size="5.83" textLength="25.30" lengthAdjust="spacingAndGlyphs" font-weight="normal" fill="#fff" stroke="#fff" stroke-width="1.1" stroke-linejoin="round">STORAGE</text>
<text x="502.70" y="540.70" font-size="5.83" textLength="25.30" lengthAdjust="spacingAndGlyphs" font-weight="normal" fill="#1c1c1c" stroke="#1c1c1c" stroke-width="0.16">STORAGE</text>
<rect x="559.10" y="542.03" width="27.50" height="5.97" fill="#fff" opacity="0.55"/>
<text x="559.90" y="547.10" font-size="5.83" textLength="25.90" lengthAdjust="spacingAndGlyphs" font-weight="normal" fill="#fff" stroke="#fff" stroke-width="1.1" stroke-linejoin="round">STORAGE</text>
<text x="559.90" y="547.10" font-size="5.83" textLength="25.90" lengthAdjust="spacingAndGlyphs" font-weight="normal" fill="#1c1c1c" stroke="#1c1c1c" stroke-width="0.16">STORAGE</text>
<rect x="545.10" y="474.77" width="16.20" height="3.93" fill="#fff" opacity="0.55"/>
<text x="545.90" y="477.80" font-size="2.97" textLength="14.60" lengthAdjust="spacingAndGlyphs" font-weight="normal" fill="#fff" stroke="#fff" stroke-width="1.1" stroke-linejoin="round">HALLWAY</text>
<text x="545.90" y="477.80" font-size="2.97" textLength="14.60" lengthAdjust="spacingAndGlyphs" font-weight="normal" fill="#333" stroke="#333" stroke-width="0.16">HALLWAY</text>
<text x="7.4" y="625.6" font-family="Liberation Serif, serif" font-size="23.6" textLength="61.6" lengthAdjust="spacingAndGlyphs" fill="#f1f1f1" stroke="#f1f1f1" stroke-width="0.35">bright</text>
<text x="72.4" y="625.6" font-size="11" textLength="23.6" lengthAdjust="spacingAndGlyphs" fill="#e6e6e6" stroke="#e6e6e6" stroke-width="0.15">MLS</text>
<text x="68.8" y="611" font-size="2.6" fill="#ddd">TM</text></g><polygon points="60.6,615.8 63.4,611.6 66.2,615.8 64.4,615.8 64.4,618 62.4,618 62.4,615.8" fill="#d9703c"/>
</svg>
</body></html>
